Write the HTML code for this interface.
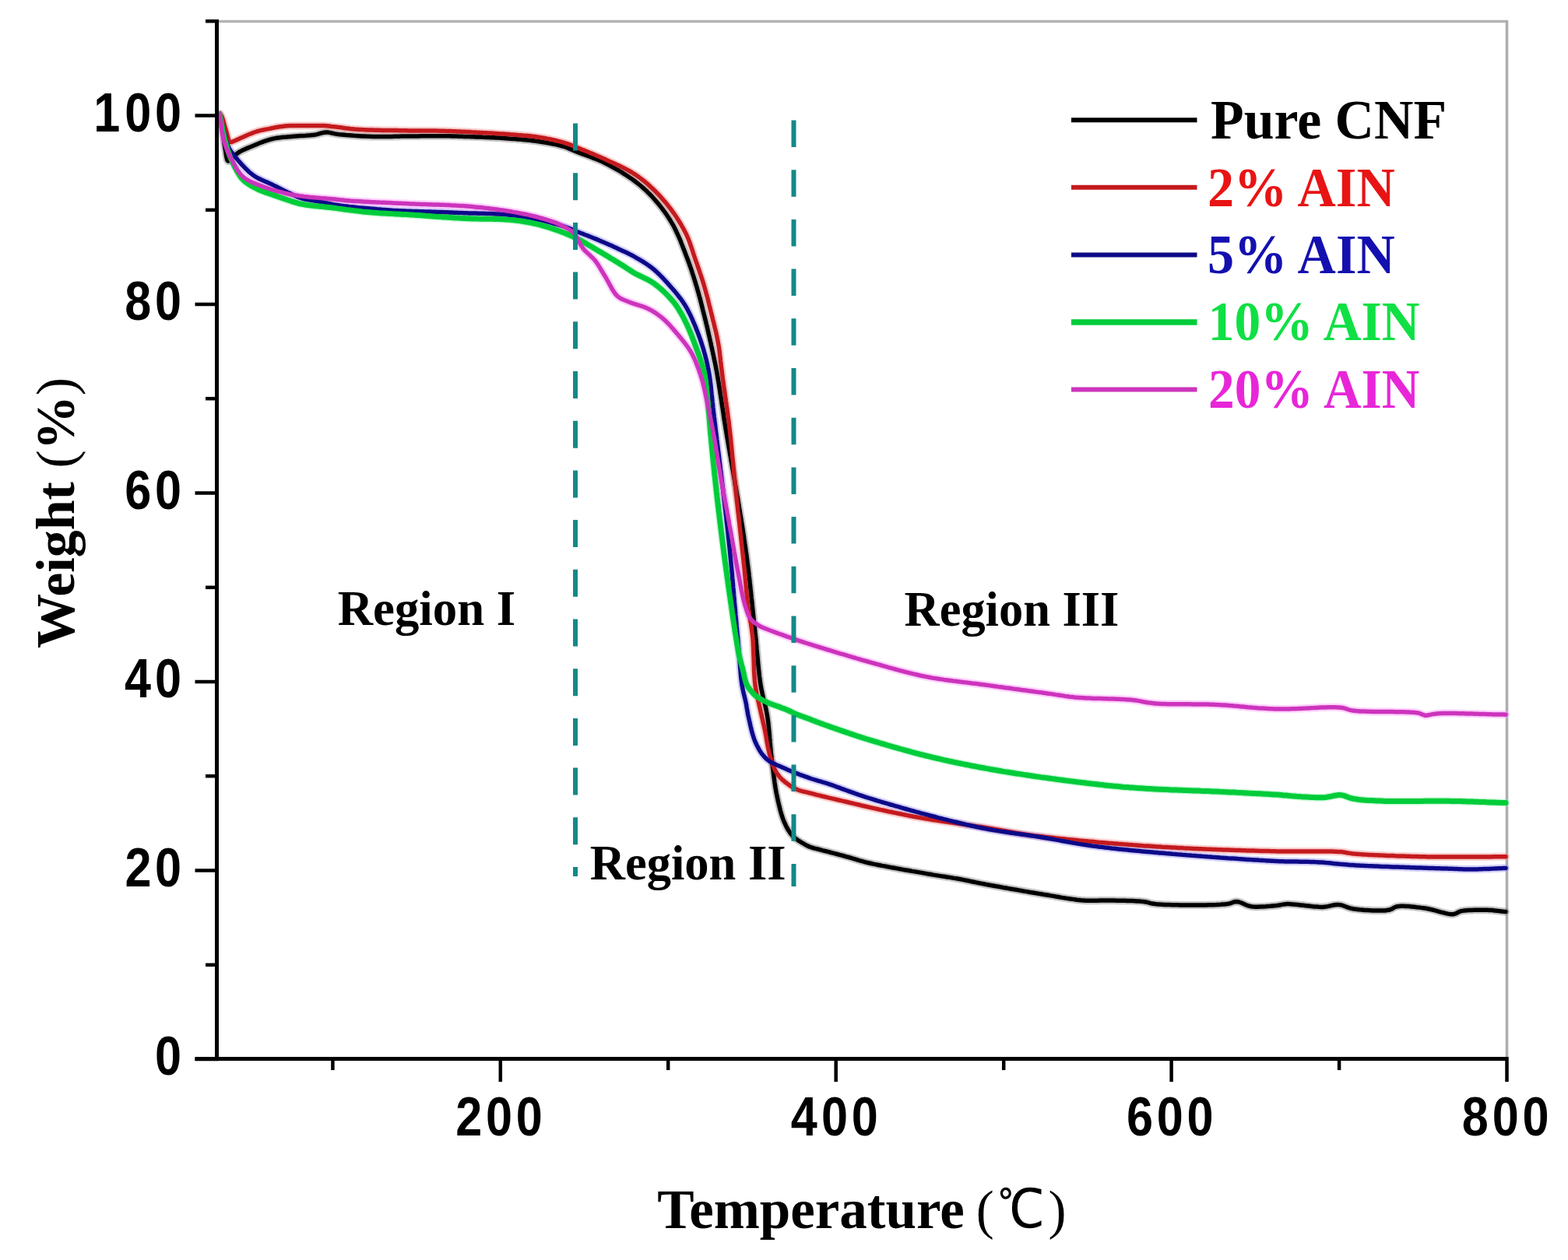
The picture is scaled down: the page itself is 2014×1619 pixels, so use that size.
<!DOCTYPE html>
<html><head><meta charset="utf-8"><title>TGA curves</title>
<style>
html,body{margin:0;padding:0;background:#fff;width:2014px;height:1619px;overflow:hidden}
svg{display:block}
.tick{font-family:"Liberation Sans",Arial,sans-serif;font-weight:bold;font-size:69.5px;fill:#000}
.ttl{font-family:"Liberation Serif","Times New Roman",serif;font-weight:bold;font-size:71px;fill:#000}
.deg{font-family:"Liberation Serif","WenQuanYi Zen Hei","Noto Sans CJK SC",sans-serif;font-weight:normal;font-size:69.1px;fill:#000}
.par{font-family:"Liberation Serif","Times New Roman",serif;font-weight:normal;font-size:69px;fill:#000}
.reg{font-family:"Liberation Serif","Times New Roman",serif;font-weight:bold;font-size:63px;fill:#000}
.leg{font-family:"Liberation Serif","Times New Roman",serif;font-weight:bold;font-size:71.5px}
</style></head><body>
<svg width="2014" height="1619" viewBox="0 0 2014 1619">
<rect width="2014" height="1619" fill="#fff"/>
<!-- frame -->
<line x1="278" y1="27.5" x2="1936" y2="27.5" stroke="#b4b4b4" stroke-width="3.5"/>
<line x1="1935.5" y1="26" x2="1935.5" y2="1361" stroke="#adadad" stroke-width="3.5"/>
<!-- curves -->
<path d="M282.0,147.0 L282.6,149.9 L283.2,152.8 L283.8,155.7 L284.4,158.7 L285.0,162.0 L285.4,164.8 L285.9,167.8 L286.3,170.9 L286.7,174.2 L287.1,177.6 L287.6,180.9 L288.0,184.1 L288.5,187.2 L289.0,190.0 L289.7,194.2 L290.3,198.5 L291.0,202.5 L291.8,205.6 L293.0,207.0 L295.3,205.8 L298.0,203.0 L300.7,200.6 L303.6,198.0 L307.0,195.5 L309.5,194.1 L312.3,192.7 L315.2,191.4 L318.3,190.1 L321.5,188.8 L324.7,187.5 L327.6,186.3 L330.6,185.1 L333.6,183.8 L336.8,182.6 L340.0,181.4 L343.2,180.3 L346.3,179.3 L349.5,178.5 L352.5,177.9 L355.5,177.3 L358.5,176.9 L361.6,176.6 L364.6,176.3 L367.7,176.1 L370.8,175.8 L374.0,175.5 L376.9,175.2 L380.0,175.0 L383.1,174.8 L386.3,174.6 L389.5,174.4 L392.6,174.3 L395.7,174.0 L398.6,173.8 L401.4,173.5 L404.0,173.2 L407.3,172.6 L410.4,171.7 L413.3,170.9 L416.1,170.3 L419.0,170.0 L421.8,170.1 L424.6,170.6 L427.4,171.3 L430.4,171.9 L433.9,172.5 L436.3,172.8 L439.0,173.0 L441.9,173.3 L444.9,173.6 L448.1,173.8 L451.3,174.0 L454.7,174.3 L458.1,174.5 L461.6,174.7 L465.1,174.9 L468.5,175.0 L472.0,175.2 L475.3,175.3 L478.6,175.4 L481.7,175.5 L484.8,175.5 L487.8,175.5 L491.0,175.5 L494.1,175.5 L497.2,175.5 L500.3,175.4 L503.4,175.4 L506.5,175.3 L509.6,175.3 L512.7,175.2 L515.8,175.1 L518.9,175.1 L522.0,175.0 L525.0,175.0 L528.1,175.0 L531.3,174.9 L534.4,174.9 L537.6,174.9 L540.7,174.8 L543.9,174.8 L547.0,174.8 L550.1,174.7 L553.2,174.7 L556.2,174.7 L559.2,174.7 L562.2,174.7 L565.1,174.7 L568.0,174.7 L571.4,174.7 L574.6,174.8 L577.7,174.8 L580.8,174.9 L583.9,175.0 L586.9,175.1 L590.1,175.2 L593.2,175.3 L596.5,175.4 L600.0,175.5 L602.8,175.6 L605.7,175.7 L608.6,175.8 L611.6,175.9 L614.7,176.0 L617.8,176.1 L621.0,176.3 L624.1,176.4 L627.3,176.5 L630.5,176.7 L633.7,176.8 L636.8,177.0 L639.9,177.1 L643.0,177.3 L646.0,177.5 L649.0,177.7 L652.3,177.9 L655.6,178.2 L658.8,178.4 L662.0,178.6 L665.3,178.9 L668.4,179.1 L671.6,179.4 L674.7,179.7 L677.9,180.0 L680.9,180.3 L684.0,180.7 L687.0,181.1 L690.0,181.5 L693.2,182.0 L696.4,182.5 L699.6,183.0 L702.8,183.5 L705.9,184.1 L709.0,184.7 L712.0,185.3 L714.9,185.9 L717.7,186.6 L720.4,187.3 L723.0,188.0 L726.1,189.0 L728.9,190.0 L731.5,191.1 L734.1,192.2 L736.9,193.4 L740.0,194.7 L742.4,195.6 L744.9,196.6 L747.6,197.6 L750.4,198.6 L753.3,199.7 L756.2,200.8 L759.2,201.9 L762.2,203.1 L765.3,204.3 L768.3,205.5 L771.2,206.8 L774.2,208.1 L777.0,209.5 L779.7,210.9 L782.5,212.3 L785.2,213.8 L788.0,215.3 L790.7,216.8 L793.5,218.4 L796.2,220.0 L798.9,221.6 L801.6,223.3 L804.2,225.0 L806.8,226.7 L809.3,228.4 L811.7,230.1 L814.1,231.8 L816.6,233.7 L819.1,235.6 L821.4,237.5 L823.7,239.4 L826.0,241.3 L828.1,243.3 L830.3,245.3 L832.4,247.4 L834.6,249.5 L836.7,251.7 L838.8,254.0 L840.8,256.3 L842.8,258.6 L844.9,261.0 L846.9,263.4 L848.8,265.9 L850.8,268.4 L852.7,271.0 L854.7,273.7 L856.5,276.3 L858.3,279.0 L860.1,281.8 L861.8,284.6 L863.5,287.4 L865.0,290.0 L866.4,292.7 L867.8,295.5 L869.1,298.3 L870.4,301.1 L871.7,304.0 L873.0,306.9 L874.2,309.8 L875.3,312.8 L876.5,315.7 L877.6,318.6 L878.8,321.5 L879.9,324.4 L880.9,327.2 L882.0,330.0 L883.1,332.9 L884.2,335.8 L885.2,338.7 L886.2,341.5 L887.2,344.4 L888.2,347.2 L889.1,350.0 L890.0,352.8 L890.9,355.6 L891.8,358.5 L892.7,361.3 L893.5,364.1 L894.4,367.0 L895.3,370.1 L896.2,373.2 L897.1,376.2 L897.9,379.3 L898.8,382.4 L899.6,385.5 L900.4,388.6 L901.2,391.7 L902.0,394.8 L902.7,397.9 L903.5,401.0 L904.3,404.1 L905.1,407.2 L905.8,410.3 L906.6,413.3 L907.3,416.4 L908.1,419.5 L908.8,422.6 L909.5,425.7 L910.2,428.8 L910.9,431.9 L911.6,435.0 L912.3,438.1 L913.0,441.2 L913.6,444.1 L914.3,447.0 L914.9,449.8 L915.5,452.7 L916.1,455.5 L916.7,458.4 L917.3,461.3 L917.9,464.2 L918.6,467.2 L919.2,470.2 L919.8,473.4 L920.4,476.6 L921.0,480.0 L921.5,482.6 L921.9,485.3 L922.4,488.1 L922.9,490.9 L923.4,493.8 L923.8,496.8 L924.3,499.8 L924.8,502.8 L925.2,505.9 L925.7,509.0 L926.2,512.1 L926.7,515.3 L927.1,518.5 L927.6,521.6 L928.1,524.8 L928.6,528.0 L929.1,531.2 L929.5,534.4 L930.0,537.6 L930.5,540.7 L931.0,543.8 L931.5,546.9 L932.0,550.0 L932.5,553.0 L933.0,556.1 L933.5,559.2 L934.0,562.2 L934.6,565.3 L935.1,568.4 L935.6,571.5 L936.1,574.6 L936.7,577.6 L937.2,580.7 L937.7,583.8 L938.3,586.9 L938.8,589.9 L939.3,593.0 L939.9,596.1 L940.4,599.1 L940.9,602.1 L941.5,605.1 L942.0,608.1 L942.5,611.1 L943.0,614.1 L943.5,617.1 L944.0,620.0 L944.5,623.1 L945.1,626.2 L945.6,629.3 L946.1,632.4 L946.6,635.4 L947.2,638.5 L947.7,641.6 L948.2,644.6 L948.7,647.6 L949.2,650.6 L949.7,653.6 L950.2,656.6 L950.7,659.6 L951.2,662.5 L951.7,665.5 L952.2,668.4 L952.6,671.3 L953.1,674.2 L953.6,677.1 L954.0,680.0 L954.5,683.2 L955.0,686.5 L955.5,689.6 L955.9,692.8 L956.4,696.0 L956.8,699.1 L957.3,702.2 L957.7,705.3 L958.1,708.4 L958.6,711.4 L959.0,714.5 L959.4,717.6 L959.8,720.7 L960.2,723.8 L960.6,726.9 L961.0,730.0 L961.4,733.1 L961.8,736.3 L962.1,739.5 L962.5,742.7 L962.9,745.9 L963.2,749.1 L963.6,752.3 L963.9,755.5 L964.2,758.7 L964.6,761.8 L964.9,765.0 L965.2,768.0 L965.6,771.1 L965.9,774.1 L966.2,777.1 L966.5,780.0 L966.8,783.2 L967.2,786.3 L967.5,789.3 L967.8,792.2 L968.1,795.1 L968.4,798.0 L968.7,800.9 L969.1,803.8 L969.4,806.8 L969.7,809.9 L970.0,813.1 L970.4,816.5 L970.7,819.2 L970.9,821.9 L971.2,824.8 L971.5,827.7 L971.8,830.7 L972.0,833.8 L972.3,836.9 L972.6,840.1 L972.9,843.2 L973.2,846.5 L973.5,849.7 L973.8,852.9 L974.1,856.1 L974.4,859.3 L974.7,862.4 L975.1,865.5 L975.4,868.5 L975.8,871.5 L976.2,874.4 L976.6,877.3 L977.0,880.0 L977.6,883.4 L978.2,886.7 L978.9,889.9 L979.6,893.0 L980.3,896.1 L981.0,899.1 L981.8,902.1 L982.5,905.1 L983.2,908.1 L983.9,911.2 L984.5,914.3 L985.1,917.5 L985.7,920.8 L986.1,923.6 L986.5,926.5 L986.9,929.4 L987.2,932.4 L987.5,935.4 L987.8,938.4 L988.1,941.5 L988.4,944.6 L988.6,947.7 L988.9,950.8 L989.1,953.9 L989.4,957.0 L989.7,960.1 L989.9,963.1 L990.2,966.2 L990.5,969.2 L990.9,972.2 L991.2,975.1 L991.6,978.2 L991.9,981.3 L992.3,984.3 L992.7,987.4 L993.1,990.5 L993.4,993.6 L993.8,996.6 L994.2,999.6 L994.6,1002.6 L995.0,1005.6 L995.5,1008.6 L995.9,1011.5 L996.4,1014.3 L996.9,1017.2 L997.4,1020.0 L998.0,1022.7 L998.7,1026.1 L999.4,1029.4 L1000.2,1032.8 L1001.0,1036.0 L1001.8,1039.3 L1002.6,1042.4 L1003.5,1045.5 L1004.4,1048.5 L1005.4,1051.4 L1006.4,1054.1 L1007.5,1056.7 L1009.1,1060.2 L1010.7,1063.4 L1012.5,1066.5 L1014.3,1069.3 L1016.3,1072.0 L1018.4,1074.4 L1020.9,1076.7 L1023.7,1078.8 L1026.5,1080.7 L1029.3,1082.4 L1031.9,1083.9 L1034.6,1085.5 L1037.2,1086.9 L1040.0,1088.1 L1042.7,1089.0 L1045.5,1089.8 L1048.7,1090.6 L1052.3,1091.5 L1054.5,1092.1 L1057.0,1092.8 L1059.8,1093.5 L1062.6,1094.2 L1065.7,1095.0 L1068.8,1095.9 L1072.0,1096.7 L1075.2,1097.5 L1078.3,1098.4 L1081.4,1099.2 L1084.4,1100.0 L1087.3,1100.8 L1090.0,1101.5 L1093.2,1102.4 L1096.2,1103.3 L1099.0,1104.2 L1101.7,1105.0 L1104.5,1105.9 L1107.5,1106.7 L1110.8,1107.6 L1114.5,1108.5 L1116.7,1109.0 L1119.1,1109.5 L1121.7,1110.1 L1124.3,1110.6 L1127.1,1111.2 L1130.0,1111.8 L1132.9,1112.4 L1136.0,1112.9 L1139.1,1113.5 L1142.3,1114.1 L1145.5,1114.7 L1148.7,1115.3 L1152.0,1115.9 L1155.3,1116.5 L1158.6,1117.1 L1161.9,1117.7 L1165.1,1118.2 L1168.4,1118.8 L1171.5,1119.4 L1174.7,1119.9 L1177.7,1120.4 L1180.7,1120.9 L1183.6,1121.4 L1186.3,1121.9 L1189.0,1122.4 L1192.3,1123.0 L1195.6,1123.5 L1198.8,1124.1 L1202.0,1124.6 L1205.1,1125.1 L1208.1,1125.6 L1211.1,1126.1 L1214.1,1126.5 L1217.0,1127.0 L1219.9,1127.4 L1222.7,1127.9 L1225.5,1128.4 L1228.3,1128.8 L1231.0,1129.3 L1233.7,1129.8 L1236.9,1130.4 L1239.8,1131.0 L1242.6,1131.5 L1245.4,1132.1 L1248.1,1132.7 L1250.8,1133.3 L1253.7,1133.9 L1256.7,1134.5 L1259.9,1135.1 L1263.4,1135.8 L1265.8,1136.3 L1268.4,1136.7 L1271.0,1137.2 L1273.8,1137.7 L1276.7,1138.2 L1279.6,1138.8 L1282.7,1139.3 L1285.8,1139.9 L1289.0,1140.5 L1292.2,1141.0 L1295.4,1141.6 L1298.7,1142.2 L1302.1,1142.8 L1305.4,1143.3 L1308.7,1143.9 L1312.0,1144.5 L1315.4,1145.1 L1318.6,1145.6 L1321.9,1146.2 L1325.1,1146.7 L1328.2,1147.2 L1331.3,1147.8 L1334.3,1148.3 L1337.2,1148.7 L1340.0,1149.2 L1343.3,1149.7 L1346.6,1150.3 L1349.9,1150.9 L1353.1,1151.4 L1356.3,1152.0 L1359.5,1152.5 L1362.6,1153.1 L1365.7,1153.6 L1368.8,1154.1 L1371.8,1154.6 L1374.8,1155.0 L1377.7,1155.4 L1380.6,1155.8 L1383.4,1156.2 L1386.2,1156.5 L1388.9,1156.8 L1391.6,1157.0 L1395.0,1157.2 L1398.2,1157.3 L1401.2,1157.3 L1404.2,1157.3 L1407.1,1157.3 L1410.0,1157.2 L1412.9,1157.1 L1416.0,1157.0 L1419.1,1157.0 L1422.4,1157.0 L1425.3,1157.0 L1428.3,1157.1 L1431.4,1157.1 L1434.7,1157.2 L1438.0,1157.2 L1441.4,1157.3 L1444.7,1157.3 L1448.1,1157.4 L1451.4,1157.5 L1454.6,1157.6 L1457.8,1157.7 L1460.7,1157.9 L1463.5,1158.0 L1466.1,1158.3 L1468.5,1158.5 L1471.9,1159.0 L1474.6,1159.7 L1477.2,1160.4 L1480.1,1161.1 L1483.9,1161.6 L1485.8,1161.8 L1488.0,1161.9 L1490.4,1162.1 L1493.0,1162.2 L1495.8,1162.4 L1498.8,1162.5 L1501.9,1162.6 L1505.2,1162.7 L1508.6,1162.8 L1512.1,1162.8 L1515.7,1162.9 L1519.4,1163.0 L1523.1,1163.0 L1526.9,1163.0 L1530.6,1163.0 L1534.4,1163.0 L1538.1,1163.0 L1541.8,1163.0 L1545.5,1163.0 L1549.0,1162.9 L1552.5,1162.8 L1555.8,1162.8 L1559.0,1162.7 L1562.1,1162.6 L1565.0,1162.4 L1567.7,1162.3 L1570.2,1162.1 L1572.5,1162.0 L1574.5,1161.8 L1576.3,1161.6 L1580.2,1160.8 L1583.0,1159.7 L1585.6,1158.8 L1588.6,1158.5 L1591.4,1159.0 L1594.3,1160.0 L1597.2,1161.3 L1600.3,1162.7 L1603.5,1163.9 L1607.0,1164.7 L1609.7,1165.0 L1612.6,1165.2 L1615.7,1165.2 L1618.9,1165.1 L1622.2,1165.0 L1625.5,1164.8 L1628.7,1164.5 L1631.8,1164.3 L1634.8,1164.0 L1637.5,1163.7 L1640.0,1163.5 L1643.5,1163.0 L1646.4,1162.4 L1649.3,1161.9 L1653.0,1161.6 L1655.3,1161.6 L1657.9,1161.7 L1660.7,1161.9 L1663.8,1162.2 L1667.0,1162.5 L1670.4,1162.9 L1673.8,1163.3 L1677.3,1163.7 L1680.8,1164.1 L1684.2,1164.5 L1687.6,1164.9 L1690.8,1165.1 L1693.9,1165.3 L1696.7,1165.4 L1699.3,1165.4 L1703.1,1165.1 L1706.6,1164.4 L1709.9,1163.6 L1713.0,1162.9 L1716.1,1162.5 L1719.3,1162.4 L1722.3,1162.9 L1725.2,1163.7 L1728.0,1164.8 L1730.9,1165.9 L1734.1,1166.9 L1737.7,1167.7 L1740.2,1168.1 L1743.0,1168.4 L1746.1,1168.8 L1749.3,1169.1 L1752.7,1169.4 L1756.2,1169.6 L1759.8,1169.8 L1763.3,1170.0 L1766.8,1170.1 L1770.1,1170.1 L1773.4,1170.1 L1776.4,1170.0 L1779.2,1169.9 L1781.7,1169.6 L1783.9,1169.3 L1787.9,1167.9 L1790.9,1166.0 L1794.7,1164.7 L1797.1,1164.4 L1799.8,1164.3 L1802.8,1164.2 L1806.0,1164.4 L1809.3,1164.6 L1812.8,1164.9 L1816.3,1165.2 L1819.8,1165.7 L1823.4,1166.1 L1826.8,1166.6 L1830.1,1167.0 L1833.2,1167.5 L1836.5,1168.2 L1839.9,1169.0 L1843.3,1169.9 L1846.7,1170.8 L1850.1,1171.8 L1853.4,1172.6 L1856.5,1173.4 L1859.5,1174.1 L1862.3,1174.5 L1864.8,1174.7 L1867.0,1174.7 L1870.4,1173.7 L1873.0,1172.1 L1876.3,1170.8 L1878.6,1170.4 L1881.2,1170.0 L1884.1,1169.7 L1887.2,1169.5 L1890.5,1169.4 L1893.9,1169.3 L1897.3,1169.2 L1900.7,1169.2 L1904.0,1169.2 L1907.2,1169.2 L1910.1,1169.3 L1913.3,1169.4 L1916.4,1169.6 L1919.4,1169.9 L1922.3,1170.2 L1925.2,1170.6 L1928.1,1170.9 L1931.0,1171.3 L1934.0,1171.6" fill="none" stroke="#808080" stroke-opacity="0.45" stroke-width="10" stroke-linejoin="round" stroke-linecap="round"/>
<path d="M282.5,146.0 L283.7,147.8 L285.0,150.0 L285.9,152.3 L286.8,155.1 L287.7,158.3 L288.6,161.7 L289.6,165.0 L290.5,168.0 L291.4,171.3 L292.3,174.9 L293.2,178.3 L294.2,181.0 L295.5,182.5 L297.6,182.5 L300.0,181.5 L302.9,180.3 L306.3,178.7 L310.0,177.0 L312.5,175.9 L315.1,174.7 L317.9,173.5 L320.9,172.3 L323.8,171.1 L326.7,170.0 L329.6,169.0 L332.7,168.1 L335.7,167.4 L338.8,166.7 L341.8,166.1 L344.9,165.6 L347.9,165.0 L350.9,164.4 L353.8,163.8 L356.7,163.3 L359.6,162.8 L362.7,162.4 L365.8,162.0 L369.0,161.8 L372.3,161.6 L375.6,161.5 L379.0,161.5 L382.5,161.5 L386.0,161.5 L389.6,161.5 L392.8,161.5 L396.1,161.5 L399.6,161.4 L403.0,161.4 L406.5,161.4 L409.9,161.5 L413.2,161.5 L416.4,161.6 L419.4,161.8 L422.7,162.0 L425.8,162.4 L428.8,162.7 L431.7,163.1 L434.5,163.4 L437.3,163.8 L440.5,164.2 L443.5,164.7 L446.6,165.1 L450.0,165.5 L452.7,165.7 L455.7,166.0 L458.8,166.2 L462.0,166.4 L465.3,166.6 L468.6,166.7 L471.8,166.9 L475.0,167.0 L478.1,167.1 L481.2,167.2 L484.2,167.3 L487.2,167.3 L490.3,167.4 L493.5,167.4 L496.7,167.4 L500.0,167.5 L503.0,167.5 L506.0,167.6 L509.1,167.6 L512.3,167.7 L515.5,167.7 L518.8,167.8 L522.0,167.8 L525.3,167.9 L528.6,167.9 L531.8,168.0 L535.0,168.0 L538.2,168.0 L541.4,168.1 L544.6,168.1 L547.8,168.1 L551.1,168.1 L554.3,168.1 L557.5,168.1 L560.6,168.1 L563.8,168.2 L566.9,168.2 L570.0,168.3 L573.1,168.4 L576.0,168.5 L578.9,168.6 L581.8,168.7 L584.7,168.8 L587.6,168.9 L590.5,169.0 L593.6,169.2 L596.7,169.3 L600.0,169.5 L602.7,169.6 L605.6,169.8 L608.5,169.9 L611.5,170.1 L614.6,170.2 L617.7,170.4 L620.8,170.6 L624.0,170.7 L627.2,170.9 L630.4,171.1 L633.6,171.3 L636.8,171.5 L639.9,171.7 L643.0,171.9 L646.0,172.1 L649.0,172.3 L652.3,172.5 L655.6,172.8 L658.8,173.0 L662.0,173.2 L665.3,173.5 L668.4,173.7 L671.6,174.0 L674.7,174.2 L677.9,174.5 L680.9,174.8 L684.0,175.2 L687.0,175.6 L690.0,176.0 L693.2,176.5 L696.3,177.0 L699.5,177.5 L702.6,178.1 L705.6,178.7 L708.7,179.3 L711.6,180.0 L714.6,180.7 L717.4,181.4 L720.3,182.1 L723.0,182.9 L726.1,183.8 L729.1,184.8 L731.9,185.9 L734.7,186.9 L737.5,188.1 L740.3,189.2 L743.2,190.4 L746.2,191.6 L748.8,192.7 L751.5,193.7 L754.2,194.8 L757.0,196.0 L759.8,197.1 L762.6,198.3 L765.5,199.5 L768.3,200.7 L771.2,202.0 L774.1,203.3 L777.0,204.6 L779.8,205.9 L782.6,207.2 L785.6,208.5 L788.5,209.8 L791.5,211.2 L794.5,212.6 L797.4,214.0 L800.4,215.5 L803.3,216.9 L806.1,218.4 L808.9,220.0 L811.5,221.5 L814.1,223.1 L816.9,224.9 L819.5,226.7 L822.1,228.6 L824.6,230.5 L827.0,232.4 L829.4,234.4 L831.8,236.4 L834.1,238.5 L836.4,240.7 L838.8,242.9 L841.0,245.0 L843.1,247.2 L845.3,249.4 L847.4,251.7 L849.6,254.1 L851.7,256.5 L853.7,258.9 L855.8,261.3 L857.8,263.8 L859.7,266.3 L861.7,268.8 L863.5,271.3 L865.3,273.8 L867.0,276.3 L868.7,278.8 L870.4,281.4 L872.0,284.0 L873.6,286.6 L875.1,289.2 L876.6,291.8 L878.1,294.4 L879.4,297.0 L880.8,299.6 L882.0,302.2 L883.4,305.3 L884.6,308.3 L885.8,311.3 L886.8,314.3 L887.9,317.4 L888.9,320.4 L889.9,323.5 L890.9,326.7 L892.0,330.0 L893.0,332.9 L894.0,335.8 L895.1,338.9 L896.1,341.9 L897.2,345.0 L898.3,348.1 L899.3,351.3 L900.4,354.4 L901.4,357.6 L902.4,360.7 L903.4,363.9 L904.3,367.0 L905.2,370.1 L906.1,373.1 L906.9,376.2 L907.8,379.3 L908.6,382.4 L909.4,385.5 L910.2,388.6 L910.9,391.6 L911.7,394.7 L912.5,397.8 L913.2,400.9 L914.0,404.0 L914.8,407.1 L915.5,410.1 L916.3,413.2 L917.1,416.3 L917.8,419.3 L918.5,422.4 L919.3,425.5 L920.0,428.6 L920.7,431.7 L921.3,434.8 L921.9,437.9 L922.5,441.0 L923.0,443.9 L923.5,446.8 L923.9,449.7 L924.3,452.5 L924.6,455.4 L925.0,458.3 L925.3,461.2 L925.6,464.1 L926.0,467.1 L926.3,470.2 L926.7,473.4 L927.1,476.6 L927.5,480.0 L927.9,482.6 L928.2,485.4 L928.6,488.1 L929.0,491.0 L929.4,493.9 L929.8,496.8 L930.2,499.8 L930.7,502.8 L931.1,505.9 L931.5,509.0 L932.0,512.1 L932.4,515.3 L932.9,518.5 L933.3,521.7 L933.8,524.8 L934.2,528.0 L934.6,531.2 L935.0,534.4 L935.5,537.6 L935.9,540.7 L936.3,543.8 L936.6,546.9 L937.0,550.0 L937.4,553.0 L937.7,556.1 L938.0,559.2 L938.4,562.2 L938.7,565.3 L939.0,568.4 L939.3,571.5 L939.6,574.6 L939.9,577.6 L940.2,580.7 L940.5,583.8 L940.8,586.9 L941.1,589.9 L941.4,593.0 L941.7,596.0 L941.9,599.1 L942.2,602.1 L942.5,605.1 L942.8,608.1 L943.1,611.1 L943.4,614.1 L943.7,617.1 L944.0,620.0 L944.3,623.1 L944.7,626.2 L945.0,629.3 L945.3,632.4 L945.6,635.5 L946.0,638.5 L946.3,641.6 L946.6,644.6 L947.0,647.6 L947.3,650.6 L947.6,653.6 L947.9,656.6 L948.3,659.6 L948.6,662.5 L948.9,665.5 L949.2,668.4 L949.6,671.3 L949.9,674.2 L950.2,677.1 L950.5,680.0 L950.9,683.3 L951.2,686.5 L951.6,689.7 L951.9,692.8 L952.3,696.0 L952.6,699.1 L953.0,702.2 L953.3,705.3 L953.7,708.4 L954.0,711.4 L954.3,714.5 L954.7,717.6 L955.0,720.7 L955.3,723.8 L955.7,726.9 L956.0,730.0 L956.3,733.1 L956.6,736.3 L956.9,739.5 L957.2,742.7 L957.5,745.9 L957.8,749.1 L958.1,752.3 L958.4,755.5 L958.7,758.7 L959.0,761.8 L959.3,765.0 L959.7,768.1 L960.0,771.1 L960.3,774.1 L960.6,777.1 L961.0,780.0 L961.4,783.2 L961.9,786.3 L962.4,789.3 L962.8,792.2 L963.3,795.1 L963.8,798.0 L964.3,800.9 L964.8,803.8 L965.3,806.8 L965.7,809.9 L966.1,813.1 L966.5,816.5 L966.8,819.2 L967.0,821.9 L967.2,824.8 L967.3,827.8 L967.5,830.9 L967.6,834.0 L967.7,837.2 L967.8,840.4 L968.0,843.6 L968.1,846.9 L968.2,850.1 L968.3,853.4 L968.4,856.6 L968.5,859.8 L968.6,862.9 L968.8,866.0 L969.0,869.0 L969.2,871.9 L969.4,874.7 L969.7,877.4 L970.0,880.0 L970.5,883.7 L971.1,887.1 L971.7,890.5 L972.3,893.7 L973.0,896.8 L973.7,899.9 L974.4,902.9 L975.1,905.9 L975.8,908.9 L976.5,912.0 L977.2,915.3 L978.0,918.6 L978.7,921.9 L979.5,925.2 L980.2,928.5 L981.0,931.7 L981.7,934.8 L982.4,938.0 L983.0,941.0 L983.6,944.3 L984.2,947.5 L984.6,950.6 L985.1,953.6 L985.7,956.7 L986.3,959.8 L987.0,963.0 L987.7,965.9 L988.5,968.9 L989.3,972.0 L990.2,975.1 L991.1,978.2 L992.1,981.2 L993.1,984.0 L994.1,986.6 L995.2,989.0 L997.0,992.3 L998.9,995.1 L1001.0,997.7 L1003.0,1000.0 L1005.3,1002.2 L1007.6,1004.2 L1010.0,1006.0 L1013.4,1008.6 L1017.0,1011.0 L1020.8,1013.1 L1025.0,1015.0 L1027.6,1015.9 L1030.4,1016.7 L1033.5,1017.4 L1036.7,1018.2 L1040.0,1019.0 L1042.9,1019.7 L1046.0,1020.5 L1049.2,1021.3 L1052.6,1022.2 L1055.9,1023.0 L1059.3,1023.8 L1062.7,1024.6 L1065.9,1025.4 L1069.0,1026.1 L1072.0,1026.8 L1075.0,1027.5 L1078.0,1028.2 L1081.0,1028.9 L1084.0,1029.6 L1087.0,1030.3 L1090.0,1031.0 L1093.0,1031.7 L1095.9,1032.4 L1098.8,1033.1 L1101.8,1033.8 L1104.8,1034.5 L1107.9,1035.3 L1111.1,1036.0 L1114.5,1036.8 L1117.1,1037.4 L1119.9,1038.0 L1122.7,1038.6 L1125.7,1039.3 L1128.7,1040.0 L1131.8,1040.6 L1135.0,1041.3 L1138.2,1042.0 L1141.3,1042.7 L1144.5,1043.3 L1147.6,1044.0 L1150.6,1044.6 L1153.6,1045.3 L1156.5,1045.8 L1159.2,1046.4 L1162.4,1047.0 L1165.3,1047.6 L1168.2,1048.2 L1170.9,1048.7 L1173.6,1049.3 L1176.4,1049.8 L1179.3,1050.3 L1182.3,1050.8 L1185.5,1051.4 L1189.0,1052.0 L1191.5,1052.4 L1194.0,1052.8 L1196.7,1053.2 L1199.5,1053.7 L1202.3,1054.1 L1205.3,1054.6 L1208.3,1055.0 L1211.3,1055.5 L1214.5,1055.9 L1217.7,1056.4 L1220.9,1056.8 L1224.2,1057.3 L1227.4,1057.8 L1230.8,1058.2 L1234.1,1058.7 L1237.4,1059.2 L1240.7,1059.7 L1244.0,1060.2 L1247.3,1060.6 L1250.5,1061.1 L1253.7,1061.6 L1256.9,1062.1 L1260.0,1062.5 L1263.0,1063.0 L1266.1,1063.5 L1269.1,1064.0 L1272.1,1064.5 L1275.0,1065.0 L1277.9,1065.5 L1280.8,1066.0 L1283.6,1066.5 L1286.4,1067.0 L1289.3,1067.5 L1292.1,1068.0 L1295.0,1068.5 L1297.9,1069.0 L1300.8,1069.5 L1303.7,1070.0 L1306.7,1070.5 L1309.8,1071.0 L1312.9,1071.5 L1316.2,1072.0 L1319.5,1072.5 L1322.9,1073.0 L1326.4,1073.4 L1330.0,1073.9 L1332.4,1074.2 L1334.9,1074.5 L1337.4,1074.8 L1340.0,1075.1 L1342.5,1075.4 L1345.2,1075.7 L1347.9,1076.0 L1350.6,1076.3 L1353.3,1076.6 L1356.1,1076.9 L1359.0,1077.2 L1361.8,1077.5 L1364.7,1077.8 L1367.6,1078.1 L1370.6,1078.4 L1373.5,1078.7 L1376.5,1079.0 L1379.6,1079.3 L1382.6,1079.6 L1385.7,1079.9 L1388.8,1080.2 L1391.9,1080.5 L1395.0,1080.8 L1398.2,1081.1 L1401.3,1081.3 L1404.5,1081.6 L1407.7,1081.9 L1410.9,1082.2 L1414.1,1082.4 L1417.3,1082.7 L1420.5,1083.0 L1423.7,1083.3 L1426.9,1083.5 L1430.1,1083.8 L1433.4,1084.0 L1436.6,1084.3 L1439.8,1084.5 L1443.0,1084.8 L1446.3,1085.0 L1449.5,1085.3 L1452.7,1085.5 L1455.8,1085.8 L1459.0,1086.0 L1462.2,1086.2 L1465.3,1086.4 L1468.5,1086.7 L1471.6,1086.9 L1474.7,1087.1 L1477.8,1087.3 L1480.9,1087.5 L1483.9,1087.7 L1486.9,1087.9 L1489.9,1088.1 L1492.9,1088.3 L1496.0,1088.4 L1499.1,1088.6 L1502.1,1088.8 L1505.2,1089.0 L1508.3,1089.1 L1511.5,1089.3 L1514.6,1089.5 L1517.7,1089.6 L1520.8,1089.8 L1524.0,1089.9 L1527.1,1090.1 L1530.3,1090.2 L1533.5,1090.4 L1536.6,1090.5 L1539.8,1090.7 L1542.9,1090.8 L1546.1,1090.9 L1549.2,1091.1 L1552.4,1091.2 L1555.6,1091.3 L1558.7,1091.4 L1561.8,1091.5 L1565.0,1091.7 L1568.1,1091.8 L1571.2,1091.9 L1574.3,1092.0 L1577.4,1092.1 L1580.4,1092.2 L1583.5,1092.3 L1586.5,1092.4 L1589.6,1092.5 L1592.6,1092.6 L1595.6,1092.7 L1598.5,1092.8 L1601.5,1092.9 L1604.4,1093.0 L1607.3,1093.0 L1610.2,1093.1 L1613.1,1093.2 L1615.9,1093.3 L1618.7,1093.4 L1621.5,1093.4 L1624.2,1093.5 L1626.9,1093.6 L1629.6,1093.6 L1632.3,1093.7 L1634.9,1093.8 L1637.5,1093.8 L1640.0,1093.9 L1643.5,1094.0 L1647.1,1094.0 L1650.6,1094.1 L1654.2,1094.1 L1657.8,1094.1 L1661.3,1094.1 L1664.8,1094.1 L1668.3,1094.1 L1671.8,1094.1 L1675.2,1094.1 L1678.6,1094.1 L1682.0,1094.1 L1685.2,1094.1 L1688.5,1094.0 L1691.6,1094.0 L1694.7,1094.0 L1697.7,1094.0 L1700.7,1094.0 L1703.5,1094.0 L1706.3,1094.0 L1708.9,1094.1 L1711.4,1094.1 L1713.9,1094.2 L1716.2,1094.3 L1718.3,1094.4 L1720.4,1094.5 L1722.3,1094.6 L1726.0,1095.0 L1728.7,1095.5 L1731.2,1096.0 L1734.0,1096.4 L1737.7,1096.9 L1739.6,1097.1 L1741.6,1097.2 L1743.8,1097.4 L1746.1,1097.6 L1748.5,1097.7 L1751.1,1097.9 L1753.8,1098.1 L1756.6,1098.2 L1759.5,1098.4 L1762.5,1098.5 L1765.6,1098.7 L1768.8,1098.8 L1772.0,1099.0 L1775.3,1099.1 L1778.7,1099.2 L1782.1,1099.4 L1785.5,1099.5 L1789.0,1099.6 L1792.5,1099.8 L1796.0,1099.9 L1799.5,1100.0 L1803.0,1100.1 L1806.5,1100.2 L1810.0,1100.3 L1813.5,1100.4 L1816.9,1100.5 L1820.3,1100.6 L1823.6,1100.7 L1826.9,1100.7 L1830.1,1100.8 L1833.1,1100.9 L1836.1,1100.9 L1839.0,1101.0 L1842.0,1101.0 L1845.1,1101.0 L1848.1,1101.1 L1851.1,1101.1 L1854.1,1101.1 L1857.2,1101.1 L1860.2,1101.1 L1863.3,1101.1 L1866.3,1101.1 L1869.4,1101.1 L1872.4,1101.1 L1875.5,1101.1 L1878.6,1101.1 L1881.7,1101.1 L1884.7,1101.0 L1887.8,1101.0 L1890.9,1101.0 L1894.0,1101.0 L1897.1,1101.0 L1900.2,1101.0 L1903.3,1100.9 L1906.3,1100.9 L1909.4,1100.9 L1912.5,1100.9 L1915.6,1100.9 L1918.7,1100.8 L1921.7,1100.8 L1924.8,1100.8 L1927.9,1100.8 L1930.9,1100.8 L1934.0,1100.8" fill="none" stroke="#f09090" stroke-opacity="0.45" stroke-width="10" stroke-linejoin="round" stroke-linecap="round"/>
<path d="M282.0,147.0 L282.9,150.3 L283.7,153.7 L284.6,157.0 L285.5,160.3 L286.3,163.6 L287.2,166.9 L288.0,170.0 L288.8,173.2 L289.6,176.4 L290.3,179.5 L291.1,182.5 L292.0,185.3 L293.0,188.0 L294.4,190.8 L295.9,193.3 L297.6,195.8 L299.8,198.6 L301.3,200.5 L302.9,202.5 L304.8,204.7 L306.7,207.0 L308.8,209.4 L311.0,211.8 L313.2,214.2 L315.5,216.6 L317.8,218.8 L320.1,221.0 L322.4,222.9 L324.7,224.7 L327.3,226.5 L329.9,228.1 L332.6,229.5 L335.2,230.8 L338.0,232.0 L340.7,233.2 L343.6,234.4 L346.5,235.7 L349.5,237.1 L352.1,238.4 L354.9,239.8 L357.7,241.2 L360.6,242.7 L363.5,244.2 L366.5,245.7 L369.5,247.2 L372.5,248.6 L375.5,250.0 L378.4,251.3 L381.2,252.5 L384.0,253.6 L386.7,254.5 L390.0,255.5 L393.2,256.3 L396.3,256.9 L399.3,257.4 L402.4,257.9 L405.4,258.4 L408.4,258.9 L411.5,259.4 L414.6,260.0 L417.6,260.6 L420.7,261.2 L423.7,261.8 L426.8,262.4 L429.9,263.0 L433.1,263.5 L436.4,264.0 L439.3,264.4 L442.2,264.8 L445.2,265.1 L448.3,265.5 L451.4,265.8 L454.6,266.1 L457.7,266.4 L460.8,266.7 L463.9,266.9 L467.0,267.2 L470.0,267.5 L473.1,267.8 L476.2,268.1 L479.2,268.3 L482.2,268.6 L485.3,268.9 L488.3,269.1 L491.3,269.4 L494.2,269.6 L497.1,269.8 L500.0,270.0 L503.2,270.2 L506.2,270.4 L509.2,270.5 L512.2,270.7 L515.2,270.8 L518.3,270.9 L521.6,271.1 L525.0,271.2 L527.7,271.3 L530.6,271.4 L533.6,271.5 L536.6,271.6 L539.8,271.7 L542.9,271.8 L546.2,271.9 L549.4,272.0 L552.6,272.1 L555.8,272.2 L559.0,272.3 L562.1,272.4 L565.1,272.5 L568.0,272.6 L571.4,272.7 L574.6,272.8 L577.7,273.0 L580.8,273.1 L583.9,273.2 L586.9,273.3 L590.0,273.4 L593.2,273.5 L596.5,273.7 L600.0,273.8 L602.8,273.9 L605.7,274.0 L608.7,274.1 L611.8,274.1 L614.9,274.2 L618.1,274.3 L621.3,274.3 L624.5,274.4 L627.8,274.5 L631.0,274.6 L634.2,274.7 L637.4,274.9 L640.6,275.0 L643.7,275.2 L646.7,275.4 L649.7,275.7 L652.9,276.0 L656.1,276.4 L659.2,276.7 L662.3,277.1 L665.3,277.5 L668.4,277.9 L671.4,278.4 L674.4,278.9 L677.4,279.4 L680.4,279.9 L683.4,280.5 L686.4,281.1 L689.4,281.7 L692.5,282.4 L695.8,283.1 L699.1,283.9 L702.5,284.8 L705.9,285.7 L709.2,286.6 L712.5,287.5 L715.7,288.4 L718.8,289.3 L721.7,290.2 L724.4,291.0 L726.9,291.8 L729.1,292.6 L733.2,294.2 L736.4,295.6 L740.0,297.2 L742.9,298.3 L745.9,299.5 L749.2,300.7 L752.4,302.0 L755.7,303.2 L758.9,304.5 L761.9,305.7 L764.9,306.9 L767.9,308.1 L770.8,309.4 L773.9,310.7 L777.0,312.0 L779.8,313.2 L782.7,314.5 L785.7,315.8 L788.7,317.2 L791.7,318.5 L794.6,319.9 L797.4,321.2 L800.0,322.4 L803.0,323.8 L805.7,325.1 L808.4,326.4 L811.1,327.8 L814.1,329.4 L816.6,330.8 L819.2,332.3 L821.9,333.9 L824.8,335.6 L827.6,337.4 L830.5,339.3 L833.3,341.2 L836.1,343.3 L838.8,345.4 L841.2,347.4 L843.5,349.5 L845.9,351.8 L848.2,354.1 L850.6,356.5 L852.9,358.9 L855.1,361.3 L857.3,363.7 L859.4,366.1 L861.5,368.5 L863.5,370.8 L865.8,373.4 L868.0,376.0 L870.1,378.6 L872.1,381.2 L874.1,383.7 L876.0,386.3 L877.8,389.0 L879.6,391.8 L881.2,394.4 L882.7,397.0 L884.1,399.7 L885.5,402.4 L886.8,405.1 L888.1,407.9 L889.4,410.7 L890.6,413.6 L891.9,416.5 L893.1,419.4 L894.3,422.4 L895.5,425.5 L896.7,428.5 L897.9,431.7 L899.0,434.8 L900.1,438.0 L901.1,441.1 L902.1,444.3 L903.1,447.4 L904.0,450.4 L904.8,453.4 L905.7,456.3 L906.4,459.3 L907.2,462.2 L907.9,465.3 L908.6,468.3 L909.2,471.5 L909.9,474.8 L910.5,478.2 L911.0,480.9 L911.4,483.6 L911.8,486.3 L912.2,489.1 L912.5,492.0 L912.9,494.9 L913.2,497.8 L913.5,500.8 L913.8,503.9 L914.1,507.0 L914.5,510.1 L914.8,513.3 L915.1,516.5 L915.5,519.8 L915.8,523.2 L916.2,526.6 L916.6,530.0 L916.9,532.6 L917.2,535.3 L917.6,538.1 L917.9,540.9 L918.3,543.8 L918.6,546.7 L919.0,549.7 L919.3,552.7 L919.7,555.8 L920.1,558.8 L920.5,562.0 L920.8,565.1 L921.2,568.2 L921.6,571.4 L922.0,574.6 L922.4,577.8 L922.8,581.0 L923.2,584.1 L923.6,587.3 L923.9,590.4 L924.3,593.6 L924.7,596.7 L925.1,599.7 L925.4,602.8 L925.8,605.8 L926.1,608.7 L926.5,611.6 L926.8,614.5 L927.2,617.3 L927.5,620.0 L927.9,623.3 L928.3,626.5 L928.7,629.7 L929.0,632.9 L929.4,636.0 L929.8,639.1 L930.1,642.1 L930.5,645.1 L930.8,648.1 L931.2,651.1 L931.5,654.0 L931.9,657.0 L932.2,659.9 L932.6,662.8 L932.9,665.7 L933.2,668.5 L933.5,671.4 L933.9,674.3 L934.2,677.1 L934.5,680.0 L934.9,683.2 L935.2,686.5 L935.5,689.7 L935.9,692.8 L936.2,696.0 L936.5,699.1 L936.9,702.2 L937.2,705.3 L937.5,708.4 L937.8,711.4 L938.1,714.5 L938.4,717.6 L938.7,720.7 L939.0,723.8 L939.3,726.9 L939.6,730.0 L939.9,733.1 L940.2,736.2 L940.5,739.4 L940.7,742.5 L941.0,745.6 L941.3,748.7 L941.6,751.9 L941.8,755.0 L942.1,758.1 L942.4,761.2 L942.6,764.4 L942.9,767.5 L943.2,770.6 L943.4,773.7 L943.7,776.9 L944.0,780.0 L944.3,783.1 L944.6,786.3 L944.8,789.4 L945.1,792.5 L945.4,795.6 L945.7,798.8 L946.0,801.9 L946.2,805.0 L946.5,808.1 L946.8,811.3 L947.1,814.4 L947.4,817.5 L947.7,820.6 L947.9,823.8 L948.2,826.9 L948.5,830.0 L948.8,833.2 L949.0,836.4 L949.3,839.7 L949.5,843.0 L949.8,846.3 L950.0,849.6 L950.3,852.9 L950.5,856.2 L950.8,859.5 L951.1,862.7 L951.3,865.8 L951.6,868.9 L951.9,871.8 L952.3,874.7 L952.6,877.4 L953.0,880.0 L953.7,883.8 L954.4,887.3 L955.2,890.6 L955.9,893.8 L956.7,896.9 L957.4,899.9 L958.1,903.0 L958.7,906.0 L959.1,908.9 L959.6,911.7 L960.1,914.5 L960.6,917.5 L961.3,920.8 L961.9,923.5 L962.6,926.5 L963.3,929.6 L964.0,932.8 L964.8,936.1 L965.6,939.5 L966.5,942.8 L967.5,946.0 L968.5,949.1 L969.6,952.1 L970.8,954.8 L972.2,957.7 L973.7,960.6 L975.2,963.3 L976.8,966.0 L978.5,968.5 L980.4,970.8 L982.3,973.1 L984.4,975.1 L986.9,977.1 L989.5,978.9 L992.3,980.4 L995.3,981.8 L998.3,983.2 L1001.5,984.5 L1004.8,986.0 L1007.3,987.1 L1010.0,988.3 L1012.7,989.5 L1015.5,990.6 L1018.4,991.8 L1021.4,993.0 L1024.3,994.1 L1027.3,995.3 L1030.2,996.3 L1033.1,997.4 L1036.0,998.4 L1038.7,999.4 L1041.8,1000.5 L1045.0,1001.5 L1048.0,1002.4 L1051.1,1003.3 L1054.1,1004.2 L1057.1,1005.1 L1060.0,1005.9 L1063.0,1006.8 L1065.9,1007.8 L1069.0,1008.9 L1072.0,1010.0 L1075.0,1011.1 L1078.0,1012.2 L1081.0,1013.3 L1084.0,1014.4 L1087.0,1015.5 L1090.0,1016.6 L1093.0,1017.7 L1095.8,1018.7 L1098.6,1019.7 L1101.4,1020.6 L1104.3,1021.7 L1107.4,1022.7 L1110.8,1023.8 L1114.5,1025.0 L1116.7,1025.7 L1119.1,1026.4 L1121.5,1027.2 L1124.1,1028.0 L1126.8,1028.8 L1129.6,1029.6 L1132.4,1030.5 L1135.3,1031.3 L1138.3,1032.2 L1141.4,1033.1 L1144.5,1034.0 L1147.6,1034.9 L1150.8,1035.8 L1154.0,1036.7 L1157.2,1037.7 L1160.5,1038.6 L1163.7,1039.5 L1167.0,1040.4 L1170.2,1041.3 L1173.4,1042.2 L1176.6,1043.1 L1179.8,1043.9 L1182.9,1044.8 L1186.0,1045.6 L1189.0,1046.4 L1192.0,1047.2 L1194.9,1048.0 L1197.9,1048.7 L1200.9,1049.5 L1203.8,1050.3 L1206.8,1051.1 L1209.8,1051.8 L1212.7,1052.6 L1215.7,1053.3 L1218.7,1054.1 L1221.6,1054.8 L1224.6,1055.6 L1227.6,1056.3 L1230.5,1057.0 L1233.5,1057.7 L1236.5,1058.4 L1239.5,1059.1 L1242.4,1059.8 L1245.4,1060.5 L1248.4,1061.2 L1251.4,1061.8 L1254.4,1062.5 L1257.4,1063.1 L1260.4,1063.7 L1263.4,1064.3 L1266.4,1064.9 L1269.5,1065.5 L1272.6,1066.0 L1275.7,1066.6 L1278.8,1067.1 L1281.9,1067.6 L1285.0,1068.1 L1288.1,1068.6 L1291.2,1069.0 L1294.4,1069.5 L1297.5,1070.0 L1300.6,1070.4 L1303.7,1070.9 L1306.9,1071.3 L1310.0,1071.8 L1313.0,1072.2 L1316.1,1072.6 L1319.2,1073.1 L1322.2,1073.5 L1325.3,1073.9 L1328.3,1074.4 L1331.2,1074.8 L1334.2,1075.3 L1337.1,1075.7 L1340.0,1076.2 L1343.2,1076.7 L1346.3,1077.3 L1349.3,1077.8 L1352.3,1078.3 L1355.3,1078.9 L1358.2,1079.4 L1361.1,1079.9 L1364.0,1080.5 L1366.9,1081.0 L1369.8,1081.5 L1372.7,1082.0 L1375.6,1082.6 L1378.5,1083.1 L1381.5,1083.6 L1384.4,1084.1 L1387.5,1084.6 L1390.5,1085.1 L1393.6,1085.6 L1396.8,1086.0 L1400.0,1086.5 L1402.7,1086.9 L1405.5,1087.2 L1408.2,1087.6 L1411.0,1088.0 L1413.8,1088.3 L1416.6,1088.6 L1419.4,1089.0 L1422.2,1089.3 L1425.0,1089.6 L1427.8,1090.0 L1430.7,1090.3 L1433.6,1090.6 L1436.5,1090.9 L1439.4,1091.2 L1442.4,1091.5 L1445.4,1091.8 L1448.4,1092.1 L1451.4,1092.4 L1454.5,1092.7 L1457.6,1093.0 L1460.8,1093.3 L1463.9,1093.6 L1467.2,1093.9 L1470.4,1094.2 L1473.7,1094.5 L1477.1,1094.8 L1480.5,1095.1 L1483.9,1095.4 L1486.5,1095.6 L1489.1,1095.9 L1491.8,1096.1 L1494.6,1096.3 L1497.4,1096.6 L1500.2,1096.8 L1503.1,1097.0 L1506.1,1097.3 L1509.1,1097.5 L1512.1,1097.8 L1515.2,1098.0 L1518.4,1098.3 L1521.5,1098.5 L1524.7,1098.8 L1527.9,1099.0 L1531.1,1099.3 L1534.4,1099.5 L1537.7,1099.8 L1541.0,1100.0 L1544.3,1100.3 L1547.6,1100.5 L1550.9,1100.8 L1554.2,1101.0 L1557.5,1101.3 L1560.9,1101.5 L1564.2,1101.7 L1567.5,1102.0 L1570.8,1102.2 L1574.1,1102.4 L1577.4,1102.7 L1580.7,1102.9 L1583.9,1103.1 L1587.1,1103.3 L1590.3,1103.6 L1593.5,1103.8 L1596.6,1104.0 L1599.7,1104.2 L1602.7,1104.4 L1605.8,1104.6 L1608.7,1104.7 L1611.7,1104.9 L1614.5,1105.1 L1617.4,1105.3 L1620.1,1105.4 L1622.9,1105.6 L1625.5,1105.7 L1628.1,1105.9 L1630.6,1106.0 L1633.1,1106.2 L1635.5,1106.3 L1637.8,1106.4 L1640.0,1106.5 L1643.8,1106.7 L1647.4,1106.8 L1650.8,1106.9 L1654.1,1107.0 L1657.3,1107.0 L1660.4,1107.1 L1663.4,1107.1 L1666.3,1107.1 L1669.1,1107.2 L1672.0,1107.2 L1674.7,1107.2 L1677.5,1107.2 L1680.3,1107.3 L1683.0,1107.4 L1685.8,1107.4 L1688.7,1107.6 L1691.6,1107.7 L1694.7,1107.9 L1697.7,1108.1 L1700.6,1108.3 L1703.5,1108.6 L1706.3,1108.8 L1709.2,1109.1 L1712.0,1109.4 L1714.9,1109.7 L1717.8,1110.0 L1720.8,1110.3 L1723.9,1110.5 L1727.1,1110.8 L1730.5,1111.1 L1734.0,1111.4 L1737.7,1111.6 L1740.0,1111.7 L1742.5,1111.9 L1745.0,1112.0 L1747.7,1112.2 L1750.5,1112.3 L1753.3,1112.4 L1756.2,1112.6 L1759.2,1112.7 L1762.3,1112.8 L1765.5,1113.0 L1768.6,1113.1 L1771.9,1113.2 L1775.2,1113.4 L1778.5,1113.5 L1781.9,1113.6 L1785.3,1113.7 L1788.7,1113.9 L1792.1,1114.0 L1795.6,1114.1 L1799.0,1114.2 L1802.4,1114.3 L1805.9,1114.5 L1809.3,1114.6 L1812.7,1114.7 L1816.0,1114.8 L1819.3,1114.9 L1822.6,1115.0 L1825.9,1115.1 L1829.1,1115.2 L1832.2,1115.3 L1835.2,1115.4 L1838.2,1115.5 L1841.1,1115.6 L1844.0,1115.7 L1846.7,1115.8 L1849.3,1115.8 L1851.9,1115.9 L1854.3,1116.0 L1856.6,1116.1 L1858.8,1116.1 L1860.9,1116.2 L1864.8,1116.3 L1868.3,1116.5 L1871.5,1116.6 L1874.5,1116.7 L1877.3,1116.8 L1880.0,1116.9 L1882.7,1116.9 L1885.6,1117.0 L1888.5,1117.0 L1891.7,1117.0 L1894.5,1117.0 L1897.4,1116.9 L1900.3,1116.8 L1903.3,1116.7 L1906.3,1116.6 L1909.4,1116.5 L1912.4,1116.4 L1915.5,1116.2 L1918.6,1116.1 L1921.7,1115.9 L1924.8,1115.8 L1927.9,1115.7 L1931.0,1115.5 L1934.0,1115.4" fill="none" stroke="#a098f0" stroke-opacity="0.45" stroke-width="10" stroke-linejoin="round" stroke-linecap="round"/>
<path d="M282.0,147.0 L282.7,150.2 L283.3,153.5 L283.9,156.8 L284.6,160.1 L285.2,163.3 L285.9,166.6 L286.6,169.8 L287.3,172.9 L288.0,176.0 L288.8,179.2 L289.6,182.3 L290.4,185.4 L291.3,188.5 L292.1,191.5 L293.0,194.4 L294.0,197.2 L295.0,200.0 L296.2,203.1 L297.5,206.0 L298.8,208.9 L300.1,211.6 L301.5,214.3 L303.0,217.0 L304.6,220.0 L306.3,222.9 L308.0,225.8 L309.9,228.5 L312.2,231.0 L314.3,232.9 L316.7,234.7 L319.2,236.5 L321.8,238.1 L324.5,239.6 L327.3,241.1 L330.0,242.5 L333.1,244.0 L336.1,245.2 L339.2,246.4 L342.5,247.6 L345.9,248.7 L349.5,250.0 L352.0,250.9 L354.5,251.8 L357.2,252.8 L360.0,253.8 L362.9,254.8 L365.8,255.8 L368.8,256.8 L371.8,257.8 L374.8,258.8 L377.8,259.7 L380.8,260.5 L383.8,261.3 L386.7,262.0 L389.8,262.6 L392.9,263.2 L396.1,263.6 L399.3,264.0 L402.5,264.4 L405.7,264.7 L408.9,265.0 L412.0,265.3 L415.1,265.6 L418.2,265.9 L421.1,266.2 L424.0,266.5 L427.5,267.0 L430.8,267.4 L434.1,267.9 L437.3,268.3 L440.5,268.7 L443.6,269.2 L446.8,269.6 L450.0,270.0 L453.1,270.4 L456.3,270.8 L459.4,271.1 L462.5,271.5 L465.6,271.9 L468.8,272.2 L471.9,272.5 L475.0,272.8 L478.1,273.1 L481.2,273.3 L484.4,273.5 L487.5,273.7 L490.6,273.9 L493.7,274.0 L496.9,274.2 L500.0,274.4 L503.0,274.6 L505.9,274.7 L508.8,274.9 L511.7,275.0 L514.6,275.2 L517.8,275.4 L521.2,275.6 L525.0,275.8 L527.3,275.9 L529.7,276.1 L532.2,276.3 L534.9,276.4 L537.7,276.6 L540.6,276.8 L543.5,277.0 L546.6,277.3 L549.7,277.5 L552.9,277.7 L556.1,277.9 L559.3,278.2 L562.6,278.4 L565.9,278.6 L569.2,278.9 L572.5,279.1 L575.8,279.3 L579.0,279.5 L582.2,279.7 L585.4,279.9 L588.5,280.1 L591.5,280.3 L594.4,280.4 L597.3,280.6 L600.0,280.7 L603.4,280.8 L606.7,281.0 L610.0,281.0 L613.3,281.1 L616.5,281.2 L619.6,281.2 L622.8,281.2 L625.9,281.3 L628.9,281.3 L631.9,281.3 L634.9,281.4 L637.8,281.5 L640.7,281.6 L643.5,281.7 L646.3,281.8 L649.0,282.0 L652.3,282.3 L655.6,282.5 L658.7,282.8 L661.7,283.1 L664.7,283.4 L667.6,283.8 L670.6,284.2 L673.5,284.7 L676.4,285.2 L679.4,285.7 L682.4,286.3 L685.4,287.0 L688.4,287.6 L691.4,288.4 L694.4,289.2 L697.4,290.0 L700.3,290.8 L703.3,291.7 L706.2,292.6 L709.2,293.6 L712.2,294.6 L715.2,295.7 L718.2,296.7 L721.2,297.9 L724.2,299.0 L727.2,300.2 L730.1,301.5 L733.1,302.8 L736.1,304.1 L739.0,305.5 L741.7,306.9 L744.5,308.3 L747.2,309.7 L749.9,311.2 L752.6,312.8 L755.3,314.4 L758.0,316.0 L760.7,317.6 L763.4,319.2 L766.1,320.8 L768.8,322.4 L771.4,323.9 L774.1,325.5 L776.9,327.2 L779.6,328.8 L782.4,330.5 L785.1,332.2 L787.9,333.8 L790.5,335.4 L793.1,337.0 L795.5,338.5 L797.8,339.9 L800.0,341.3 L803.1,343.3 L805.8,345.1 L808.4,346.8 L811.1,348.6 L814.1,350.4 L816.5,351.8 L819.2,353.1 L822.0,354.5 L824.8,355.8 L827.8,357.3 L830.7,358.7 L833.5,360.2 L836.2,361.8 L838.8,363.4 L841.4,365.2 L843.9,367.1 L846.3,369.1 L848.7,371.1 L851.0,373.2 L853.2,375.3 L855.3,377.3 L857.4,379.4 L859.7,381.8 L861.8,384.1 L863.9,386.5 L865.9,388.9 L867.8,391.5 L869.7,394.2 L871.3,396.7 L872.9,399.3 L874.5,402.0 L876.1,404.7 L877.6,407.6 L879.1,410.5 L880.5,413.5 L882.0,416.5 L883.2,419.1 L884.4,421.8 L885.6,424.5 L886.7,427.3 L887.9,430.1 L889.0,433.0 L890.1,435.9 L891.2,438.8 L892.3,441.7 L893.4,444.6 L894.4,447.4 L895.5,450.4 L896.6,453.5 L897.7,456.4 L898.8,459.4 L899.8,462.4 L900.8,465.5 L901.8,468.5 L902.7,471.7 L903.5,474.9 L904.3,478.2 L904.9,481.0 L905.4,483.8 L905.9,486.7 L906.3,489.7 L906.7,492.6 L907.1,495.7 L907.4,498.7 L907.7,501.8 L908.0,504.8 L908.3,507.9 L908.6,511.0 L908.9,514.0 L909.2,517.0 L909.5,520.0 L909.8,523.1 L910.1,526.1 L910.4,529.1 L910.7,532.1 L910.9,535.1 L911.1,538.1 L911.4,541.0 L911.6,544.1 L911.9,547.1 L912.1,550.2 L912.4,553.4 L912.7,556.7 L913.0,560.0 L913.3,562.7 L913.5,565.5 L913.8,568.3 L914.1,571.2 L914.3,574.2 L914.6,577.1 L914.9,580.1 L915.2,583.1 L915.5,586.2 L915.8,589.2 L916.1,592.3 L916.4,595.4 L916.8,598.5 L917.1,601.6 L917.4,604.7 L917.7,607.8 L918.0,610.9 L918.4,613.9 L918.7,617.0 L919.0,620.0 L919.3,623.0 L919.7,626.0 L920.0,629.1 L920.3,632.1 L920.7,635.1 L921.0,638.2 L921.4,641.2 L921.7,644.3 L922.1,647.3 L922.4,650.3 L922.8,653.4 L923.1,656.4 L923.5,659.4 L923.9,662.4 L924.2,665.4 L924.6,668.4 L924.9,671.3 L925.3,674.2 L925.6,677.1 L926.0,680.0 L926.4,683.3 L926.8,686.5 L927.2,689.7 L927.6,692.8 L928.0,696.0 L928.4,699.1 L928.8,702.2 L929.2,705.3 L929.6,708.4 L930.0,711.5 L930.4,714.5 L930.8,717.6 L931.2,720.7 L931.7,723.8 L932.1,726.9 L932.5,730.0 L932.9,733.1 L933.4,736.3 L933.8,739.5 L934.2,742.6 L934.7,745.8 L935.1,749.0 L935.5,752.2 L936.0,755.4 L936.4,758.5 L936.9,761.7 L937.3,764.8 L937.8,767.9 L938.2,771.0 L938.6,774.0 L939.1,777.0 L939.5,780.0 L940.0,783.2 L940.4,786.5 L940.9,789.7 L941.4,792.9 L941.8,796.1 L942.3,799.3 L942.8,802.4 L943.2,805.5 L943.7,808.5 L944.1,811.5 L944.6,814.4 L945.1,817.2 L945.5,820.0 L946.1,823.5 L946.6,826.8 L947.2,830.1 L947.7,833.3 L948.3,836.4 L948.8,839.3 L949.4,842.2 L950.0,845.0 L950.8,848.2 L951.6,851.2 L952.4,854.1 L953.2,857.0 L954.0,860.0 L954.7,863.0 L955.4,866.1 L956.0,869.3 L956.8,872.5 L957.6,875.4 L958.5,878.0 L960.1,881.3 L961.9,884.2 L964.0,887.0 L966.4,889.8 L969.0,892.5 L972.0,895.0 L974.6,896.8 L977.5,898.5 L980.5,900.1 L983.6,901.6 L986.5,903.0 L989.4,904.2 L992.3,905.2 L995.1,906.2 L998.0,907.2 L1001.2,908.4 L1004.5,909.7 L1007.9,910.9 L1011.2,912.3 L1014.0,913.5 L1016.7,914.8 L1019.5,916.1 L1022.3,917.4 L1025.1,918.6 L1028.1,919.7 L1031.1,920.8 L1034.1,921.9 L1037.1,922.9 L1040.0,924.0 L1043.0,925.2 L1045.8,926.3 L1048.8,927.5 L1052.3,928.8 L1054.5,929.6 L1057.0,930.5 L1059.7,931.5 L1062.6,932.5 L1065.7,933.6 L1068.8,934.7 L1071.9,935.8 L1075.1,936.9 L1078.3,938.0 L1081.4,939.1 L1084.4,940.1 L1087.3,941.1 L1090.0,942.0 L1093.2,943.1 L1096.2,944.1 L1099.0,945.0 L1101.7,946.0 L1104.5,946.9 L1107.5,947.8 L1110.8,948.9 L1114.5,950.0 L1116.7,950.7 L1119.1,951.4 L1121.5,952.1 L1124.1,952.9 L1126.8,953.7 L1129.6,954.5 L1132.4,955.4 L1135.3,956.2 L1138.3,957.1 L1141.3,958.0 L1144.4,958.9 L1147.6,959.8 L1150.8,960.7 L1154.0,961.6 L1157.2,962.5 L1160.5,963.4 L1163.7,964.3 L1167.0,965.2 L1170.2,966.1 L1173.4,967.0 L1176.6,967.8 L1179.8,968.7 L1182.9,969.5 L1186.0,970.2 L1189.0,971.0 L1192.0,971.7 L1194.9,972.4 L1197.9,973.2 L1200.9,973.8 L1203.8,974.5 L1206.8,975.2 L1209.8,975.9 L1212.7,976.6 L1215.7,977.2 L1218.7,977.9 L1221.6,978.5 L1224.6,979.1 L1227.6,979.8 L1230.5,980.4 L1233.5,981.0 L1236.5,981.6 L1239.5,982.2 L1242.4,982.8 L1245.4,983.4 L1248.4,984.0 L1251.4,984.5 L1254.4,985.1 L1257.4,985.7 L1260.4,986.2 L1263.4,986.8 L1266.4,987.4 L1269.5,987.9 L1272.5,988.5 L1275.5,989.0 L1278.5,989.5 L1281.5,990.0 L1284.6,990.5 L1287.6,991.1 L1290.6,991.6 L1293.6,992.0 L1296.7,992.5 L1299.7,993.0 L1302.7,993.5 L1305.8,994.0 L1308.8,994.4 L1311.9,994.9 L1315.0,995.4 L1318.0,995.8 L1321.1,996.3 L1324.2,996.7 L1327.4,997.2 L1330.5,997.7 L1333.7,998.1 L1336.8,998.6 L1340.0,999.0 L1342.9,999.4 L1345.8,999.8 L1348.8,1000.2 L1351.8,1000.6 L1354.8,1001.0 L1357.9,1001.5 L1361.0,1001.9 L1364.1,1002.3 L1367.2,1002.7 L1370.3,1003.1 L1373.4,1003.5 L1376.6,1003.9 L1379.7,1004.3 L1382.8,1004.7 L1386.0,1005.1 L1389.1,1005.4 L1392.2,1005.8 L1395.3,1006.2 L1398.4,1006.6 L1401.4,1006.9 L1404.4,1007.3 L1407.4,1007.6 L1410.4,1007.9 L1413.3,1008.3 L1416.2,1008.6 L1419.1,1008.9 L1421.9,1009.2 L1424.6,1009.5 L1427.4,1009.7 L1430.0,1010.0 L1433.3,1010.3 L1436.5,1010.6 L1439.7,1010.9 L1442.7,1011.2 L1445.7,1011.4 L1448.6,1011.6 L1451.5,1011.9 L1454.4,1012.1 L1457.2,1012.3 L1460.0,1012.5 L1462.9,1012.7 L1465.7,1012.8 L1468.6,1013.0 L1471.5,1013.2 L1474.5,1013.4 L1477.6,1013.5 L1480.7,1013.7 L1483.9,1013.9 L1486.7,1014.1 L1489.6,1014.2 L1492.5,1014.3 L1495.5,1014.5 L1498.5,1014.6 L1501.5,1014.7 L1504.6,1014.9 L1507.7,1015.0 L1510.8,1015.1 L1513.9,1015.2 L1517.1,1015.3 L1520.2,1015.5 L1523.4,1015.6 L1526.6,1015.7 L1529.7,1015.8 L1532.9,1015.9 L1536.1,1016.0 L1539.3,1016.1 L1542.4,1016.3 L1545.5,1016.4 L1548.7,1016.5 L1551.8,1016.6 L1554.8,1016.7 L1557.9,1016.9 L1560.9,1017.0 L1564.0,1017.1 L1567.0,1017.3 L1570.1,1017.4 L1573.1,1017.6 L1576.2,1017.7 L1579.2,1017.9 L1582.2,1018.0 L1585.2,1018.1 L1588.2,1018.3 L1591.2,1018.4 L1594.2,1018.6 L1597.2,1018.7 L1600.2,1018.9 L1603.1,1019.1 L1606.1,1019.2 L1609.1,1019.4 L1612.1,1019.5 L1615.0,1019.7 L1618.0,1019.8 L1621.0,1020.0 L1624.0,1020.2 L1627.0,1020.3 L1630.0,1020.5 L1633.0,1020.7 L1636.2,1020.9 L1639.3,1021.1 L1642.5,1021.3 L1645.8,1021.6 L1649.0,1021.9 L1652.3,1022.1 L1655.6,1022.4 L1658.9,1022.7 L1662.1,1022.9 L1665.4,1023.2 L1668.6,1023.4 L1671.8,1023.7 L1674.9,1023.9 L1678.0,1024.1 L1681.0,1024.3 L1683.9,1024.5 L1686.7,1024.6 L1689.5,1024.7 L1692.1,1024.7 L1694.6,1024.8 L1697.0,1024.8 L1699.3,1024.7 L1703.3,1024.4 L1706.9,1023.8 L1710.3,1023.2 L1713.4,1022.5 L1716.5,1021.9 L1719.4,1021.6 L1722.3,1021.6 L1725.5,1022.1 L1728.3,1023.1 L1731.2,1024.2 L1734.2,1025.3 L1737.7,1026.2 L1740.2,1026.6 L1742.9,1027.0 L1745.7,1027.4 L1748.7,1027.7 L1751.7,1028.0 L1754.9,1028.2 L1758.2,1028.4 L1761.6,1028.6 L1765.1,1028.8 L1768.7,1029.0 L1772.4,1029.1 L1776.2,1029.3 L1778.7,1029.4 L1781.2,1029.5 L1783.9,1029.5 L1786.6,1029.6 L1789.4,1029.6 L1792.3,1029.6 L1795.2,1029.6 L1798.2,1029.6 L1801.2,1029.6 L1804.3,1029.6 L1807.4,1029.6 L1810.5,1029.5 L1813.7,1029.5 L1816.9,1029.5 L1820.1,1029.4 L1823.3,1029.4 L1826.5,1029.4 L1829.8,1029.3 L1833.0,1029.3 L1836.2,1029.3 L1839.4,1029.2 L1842.6,1029.2 L1845.7,1029.2 L1848.8,1029.2 L1851.9,1029.2 L1855.0,1029.2 L1858.0,1029.3 L1860.9,1029.3 L1864.0,1029.4 L1867.2,1029.4 L1870.3,1029.5 L1873.4,1029.6 L1876.5,1029.6 L1879.6,1029.7 L1882.6,1029.8 L1885.7,1029.9 L1888.7,1030.0 L1891.7,1030.1 L1894.8,1030.2 L1897.8,1030.3 L1900.8,1030.4 L1903.8,1030.5 L1906.8,1030.6 L1909.8,1030.8 L1912.8,1030.9 L1915.9,1031.0 L1918.9,1031.1 L1921.9,1031.2 L1924.9,1031.3 L1927.9,1031.4 L1931.0,1031.5 L1934.0,1031.6" fill="none" stroke="#90f0b0" stroke-opacity="0.45" stroke-width="10" stroke-linejoin="round" stroke-linecap="round"/>
<path d="M282.0,147.0 L282.5,150.0 L282.9,153.1 L283.3,156.1 L283.7,159.2 L284.1,162.3 L284.5,165.4 L285.0,168.4 L285.5,171.4 L286.1,174.3 L286.7,177.2 L287.4,180.0 L288.4,183.3 L289.4,186.6 L290.5,189.7 L291.7,192.8 L293.0,195.9 L294.4,198.9 L295.8,201.8 L297.3,204.8 L298.9,207.8 L300.5,210.8 L302.1,213.8 L303.8,216.8 L305.7,219.7 L307.7,222.4 L309.8,224.9 L312.2,227.2 L314.5,229.1 L317.0,230.7 L319.5,232.2 L322.3,233.6 L325.1,234.9 L328.0,236.1 L331.0,237.3 L334.0,238.4 L337.1,239.6 L339.9,240.6 L342.9,241.7 L346.0,242.7 L349.1,243.7 L352.3,244.6 L355.6,245.5 L358.8,246.4 L362.1,247.2 L365.3,248.0 L368.4,248.7 L371.4,249.4 L374.3,250.0 L377.7,250.7 L381.0,251.2 L384.3,251.7 L387.5,252.1 L390.6,252.5 L393.7,252.8 L396.9,253.2 L400.0,253.5 L403.0,253.8 L406.0,254.1 L409.0,254.3 L412.0,254.6 L415.0,254.8 L418.0,255.0 L421.0,255.2 L424.0,255.5 L427.2,255.8 L430.4,256.1 L433.7,256.4 L437.0,256.8 L440.2,257.1 L443.5,257.4 L446.8,257.7 L450.0,258.0 L453.1,258.2 L456.3,258.5 L459.4,258.6 L462.5,258.8 L465.6,259.0 L468.8,259.2 L471.9,259.3 L475.0,259.5 L478.1,259.7 L481.2,259.8 L484.4,259.9 L487.5,260.1 L490.6,260.2 L493.7,260.3 L496.9,260.5 L500.0,260.6 L503.0,260.7 L505.9,260.9 L508.8,261.0 L511.7,261.2 L514.6,261.3 L517.8,261.5 L521.2,261.6 L525.0,261.8 L527.3,261.9 L529.7,262.0 L532.2,262.1 L534.9,262.2 L537.7,262.3 L540.6,262.4 L543.5,262.5 L546.6,262.6 L549.7,262.7 L552.9,262.8 L556.1,262.9 L559.3,263.0 L562.6,263.1 L565.9,263.2 L569.2,263.3 L572.5,263.5 L575.8,263.6 L579.0,263.8 L582.2,263.9 L585.4,264.1 L588.4,264.2 L591.5,264.4 L594.4,264.6 L597.3,264.8 L600.0,265.0 L603.4,265.3 L606.7,265.6 L610.0,265.9 L613.3,266.2 L616.5,266.5 L619.7,266.8 L622.8,267.2 L625.9,267.5 L628.9,267.9 L631.9,268.3 L634.9,268.7 L637.9,269.1 L640.9,269.5 L643.8,269.9 L646.8,270.3 L649.7,270.8 L652.9,271.3 L656.1,271.8 L659.3,272.4 L662.5,272.9 L665.6,273.5 L668.7,274.1 L671.8,274.7 L674.8,275.3 L677.8,275.9 L680.8,276.6 L683.7,277.3 L686.6,278.0 L689.4,278.7 L692.6,279.6 L695.8,280.5 L699.0,281.4 L702.1,282.3 L705.2,283.3 L708.1,284.3 L711.1,285.3 L713.9,286.4 L716.6,287.5 L719.2,288.7 L722.6,290.3 L725.8,291.9 L728.9,293.5 L731.7,295.3 L734.5,297.3 L737.0,299.6 L739.0,302.0 L740.8,304.8 L742.4,307.7 L744.0,310.8 L745.5,313.8 L747.2,316.7 L749.0,319.4 L751.0,321.7 L753.1,323.8 L755.3,325.8 L757.5,327.8 L759.7,329.9 L761.9,332.0 L763.9,334.3 L765.7,336.6 L767.4,339.0 L769.0,341.5 L770.6,344.1 L772.1,346.7 L773.7,349.3 L775.3,352.0 L777.0,354.7 L778.5,357.2 L780.0,360.0 L781.6,362.8 L783.1,365.7 L784.7,368.6 L786.3,371.4 L787.9,374.1 L789.6,376.5 L791.3,378.7 L793.1,380.6 L795.8,382.7 L798.7,384.3 L801.6,385.5 L804.7,386.7 L808.0,388.0 L810.8,389.1 L813.8,390.1 L816.9,391.1 L820.2,392.1 L823.4,393.1 L826.6,394.2 L829.7,395.4 L832.6,396.7 L835.5,398.2 L838.3,399.8 L840.9,401.4 L843.6,403.2 L846.1,405.1 L848.7,407.0 L851.2,409.1 L853.4,411.0 L855.5,413.0 L857.6,415.1 L859.6,417.2 L861.7,419.5 L863.7,421.8 L865.7,424.1 L867.7,426.4 L869.7,428.8 L871.6,431.1 L873.6,433.4 L875.5,435.8 L877.5,438.2 L879.4,440.6 L881.3,443.1 L883.2,445.6 L884.9,448.2 L886.6,450.8 L888.2,453.5 L889.6,456.1 L890.9,458.8 L892.2,461.5 L893.4,464.2 L894.5,467.0 L895.6,469.9 L896.7,472.7 L897.7,475.6 L898.7,478.5 L899.7,481.5 L900.6,484.4 L901.5,487.3 L902.3,490.1 L903.1,493.1 L903.8,496.0 L904.5,499.0 L905.2,502.0 L905.8,505.0 L906.5,508.0 L907.1,511.0 L907.7,514.0 L908.4,517.0 L909.0,520.0 L909.7,523.1 L910.3,526.2 L911.0,529.3 L911.6,532.3 L912.2,535.3 L912.8,538.4 L913.4,541.5 L914.1,544.7 L914.7,548.0 L915.3,551.4 L916.0,555.0 L916.5,557.7 L917.0,560.4 L917.5,563.3 L918.0,566.2 L918.5,569.1 L919.0,572.2 L919.5,575.3 L920.0,578.4 L920.6,581.6 L921.1,584.8 L921.6,588.0 L922.2,591.3 L922.7,594.5 L923.2,597.8 L923.8,601.0 L924.3,604.3 L924.9,607.5 L925.4,610.7 L925.9,613.8 L926.5,616.9 L927.0,620.0 L927.5,623.1 L928.1,626.1 L928.6,629.2 L929.2,632.2 L929.7,635.3 L930.3,638.4 L930.9,641.4 L931.4,644.4 L932.0,647.5 L932.5,650.5 L933.1,653.5 L933.7,656.5 L934.2,659.5 L934.8,662.5 L935.3,665.4 L935.9,668.4 L936.4,671.3 L936.9,674.2 L937.5,677.1 L938.0,680.0 L938.6,683.3 L939.2,686.5 L939.7,689.7 L940.3,692.8 L940.8,696.0 L941.4,699.1 L941.9,702.3 L942.5,705.4 L943.0,708.4 L943.6,711.5 L944.1,714.6 L944.7,717.7 L945.3,720.8 L945.8,723.8 L946.4,726.9 L947.0,730.0 L947.6,733.1 L948.2,736.2 L948.8,739.4 L949.4,742.7 L950.0,745.9 L950.6,749.2 L951.2,752.4 L951.8,755.6 L952.4,758.8 L953.1,761.9 L953.7,764.9 L954.3,767.8 L955.0,770.6 L955.7,773.2 L956.3,775.7 L957.0,778.0 L958.1,781.5 L959.1,784.6 L960.1,787.5 L961.2,790.2 L962.5,792.7 L964.0,795.0 L966.4,797.7 L969.1,800.1 L972.1,802.1 L975.0,804.0 L977.7,805.5 L980.3,806.6 L983.2,807.7 L986.5,809.0 L989.0,810.0 L991.8,811.0 L994.8,812.2 L998.0,813.3 L1001.3,814.5 L1004.6,815.7 L1008.0,816.9 L1011.3,818.1 L1014.4,819.2 L1017.4,820.2 L1020.7,821.3 L1023.7,822.4 L1026.6,823.4 L1029.6,824.3 L1032.7,825.4 L1036.1,826.5 L1040.0,827.7 L1042.2,828.4 L1044.5,829.1 L1046.9,829.9 L1049.5,830.7 L1052.1,831.5 L1054.9,832.3 L1057.7,833.2 L1060.6,834.1 L1063.6,835.0 L1066.7,835.9 L1069.8,836.9 L1072.9,837.8 L1076.1,838.8 L1079.3,839.8 L1082.6,840.7 L1085.9,841.7 L1089.1,842.7 L1092.4,843.6 L1095.6,844.6 L1098.9,845.5 L1102.1,846.5 L1105.3,847.4 L1108.4,848.3 L1111.5,849.2 L1114.5,850.0 L1117.5,850.8 L1120.4,851.7 L1123.4,852.5 L1126.4,853.4 L1129.4,854.2 L1132.3,855.0 L1135.3,855.9 L1138.3,856.7 L1141.3,857.6 L1144.2,858.4 L1147.2,859.2 L1150.2,860.0 L1153.2,860.8 L1156.1,861.6 L1159.1,862.4 L1162.1,863.2 L1165.1,863.9 L1168.1,864.7 L1171.1,865.4 L1174.0,866.1 L1177.0,866.8 L1180.0,867.5 L1183.0,868.2 L1186.0,868.8 L1189.0,869.4 L1192.0,870.0 L1194.9,870.5 L1197.9,871.1 L1200.8,871.6 L1203.8,872.0 L1206.8,872.5 L1209.7,872.9 L1212.7,873.4 L1215.7,873.8 L1218.6,874.2 L1221.6,874.6 L1224.6,875.0 L1227.6,875.3 L1230.5,875.7 L1233.5,876.1 L1236.5,876.4 L1239.5,876.8 L1242.5,877.1 L1245.4,877.5 L1248.4,877.9 L1251.4,878.2 L1254.4,878.6 L1257.4,879.0 L1260.4,879.4 L1263.4,879.8 L1266.5,880.2 L1269.6,880.6 L1272.7,881.1 L1275.8,881.5 L1279.0,881.9 L1282.2,882.4 L1285.4,882.8 L1288.6,883.2 L1291.8,883.7 L1295.0,884.1 L1298.2,884.5 L1301.4,885.0 L1304.5,885.4 L1307.7,885.8 L1310.8,886.3 L1313.9,886.7 L1317.0,887.1 L1320.1,887.5 L1323.1,887.9 L1326.0,888.3 L1328.9,888.7 L1331.8,889.1 L1334.6,889.5 L1337.3,889.8 L1340.0,890.2 L1343.5,890.7 L1346.8,891.2 L1350.0,891.6 L1353.1,892.1 L1356.2,892.6 L1359.1,893.0 L1362.1,893.5 L1365.0,893.9 L1368.0,894.4 L1371.0,894.8 L1374.0,895.2 L1377.2,895.5 L1380.5,895.9 L1383.9,896.2 L1386.6,896.4 L1389.4,896.6 L1392.3,896.8 L1395.3,897.0 L1398.4,897.1 L1401.5,897.2 L1404.7,897.4 L1407.9,897.5 L1411.1,897.6 L1414.4,897.6 L1417.6,897.7 L1420.9,897.8 L1424.1,897.9 L1427.3,898.0 L1430.5,898.1 L1433.6,898.2 L1436.6,898.3 L1439.6,898.4 L1442.5,898.6 L1445.3,898.7 L1448.0,898.9 L1450.6,899.1 L1453.1,899.3 L1456.6,899.7 L1459.8,900.1 L1462.8,900.6 L1465.6,901.1 L1468.4,901.7 L1471.2,902.2 L1474.0,902.7 L1477.0,903.1 L1480.3,903.5 L1483.9,903.9 L1486.3,904.1 L1488.9,904.2 L1491.5,904.4 L1494.2,904.5 L1497.0,904.6 L1499.9,904.7 L1502.9,904.7 L1505.9,904.8 L1509.0,904.8 L1512.1,904.8 L1515.3,904.8 L1518.5,904.8 L1521.8,904.8 L1525.1,904.8 L1528.4,904.8 L1531.7,904.9 L1535.0,904.9 L1538.3,904.9 L1541.6,904.9 L1544.9,905.0 L1548.2,905.0 L1551.4,905.1 L1554.6,905.2 L1557.8,905.3 L1560.9,905.4 L1563.9,905.5 L1566.9,905.7 L1570.0,905.9 L1573.0,906.1 L1576.0,906.3 L1579.1,906.6 L1582.1,906.8 L1585.1,907.1 L1588.1,907.3 L1591.2,907.6 L1594.2,907.9 L1597.2,908.1 L1600.3,908.4 L1603.3,908.7 L1606.4,908.9 L1609.4,909.2 L1612.5,909.4 L1615.5,909.7 L1618.6,909.9 L1621.6,910.1 L1624.7,910.3 L1627.7,910.5 L1630.8,910.7 L1633.9,910.8 L1636.9,910.9 L1640.0,911.0 L1643.1,911.1 L1646.2,911.1 L1649.4,911.1 L1652.7,911.0 L1656.1,910.9 L1659.4,910.8 L1662.8,910.7 L1666.3,910.6 L1669.7,910.4 L1673.2,910.2 L1676.6,910.1 L1680.1,909.9 L1683.5,909.7 L1686.8,909.6 L1690.1,909.4 L1693.4,909.2 L1696.6,909.1 L1699.7,909.0 L1702.7,908.9 L1705.6,908.8 L1708.4,908.7 L1711.1,908.7 L1713.6,908.7 L1716.0,908.8 L1718.3,908.9 L1720.4,909.0 L1722.3,909.2 L1726.0,909.8 L1728.8,910.6 L1731.2,911.5 L1734.0,912.4 L1737.7,913.1 L1739.6,913.3 L1741.9,913.6 L1744.3,913.7 L1747.0,913.9 L1749.9,914.0 L1753.0,914.1 L1756.2,914.2 L1759.6,914.3 L1763.1,914.4 L1766.6,914.4 L1770.3,914.5 L1774.0,914.5 L1777.7,914.5 L1781.5,914.5 L1785.2,914.6 L1788.9,914.6 L1792.5,914.7 L1796.1,914.7 L1799.5,914.8 L1802.9,914.8 L1806.1,914.9 L1809.1,915.0 L1811.9,915.2 L1814.5,915.3 L1816.9,915.5 L1819.0,915.7 L1820.9,915.9 L1822.4,916.2 L1826.6,917.9 L1830.1,919.2 L1832.6,919.2 L1835.2,918.7 L1838.1,918.1 L1841.5,917.4 L1845.5,916.9 L1847.4,916.8 L1849.4,916.7 L1851.6,916.6 L1854.0,916.6 L1856.5,916.6 L1859.1,916.5 L1861.8,916.5 L1864.6,916.6 L1867.6,916.6 L1870.6,916.6 L1873.7,916.7 L1876.9,916.8 L1880.2,916.8 L1883.5,916.9 L1886.9,917.0 L1890.3,917.1 L1893.7,917.2 L1897.2,917.3 L1900.6,917.4 L1904.1,917.5 L1907.6,917.6 L1911.0,917.7 L1914.5,917.8 L1917.8,917.9 L1921.2,917.9 L1924.5,918.0 L1927.7,918.1 L1930.9,918.1 L1934.0,918.2" fill="none" stroke="#ff9cff" stroke-opacity="0.45" stroke-width="10" stroke-linejoin="round" stroke-linecap="round"/>
<path d="M282.0,147.0 L282.6,149.9 L283.2,152.8 L283.8,155.7 L284.4,158.7 L285.0,162.0 L285.4,164.8 L285.9,167.8 L286.3,170.9 L286.7,174.2 L287.1,177.6 L287.6,180.9 L288.0,184.1 L288.5,187.2 L289.0,190.0 L289.7,194.2 L290.3,198.5 L291.0,202.5 L291.8,205.6 L293.0,207.0 L295.3,205.8 L298.0,203.0 L300.7,200.6 L303.6,198.0 L307.0,195.5 L309.5,194.1 L312.3,192.7 L315.2,191.4 L318.3,190.1 L321.5,188.8 L324.7,187.5 L327.6,186.3 L330.6,185.1 L333.6,183.8 L336.8,182.6 L340.0,181.4 L343.2,180.3 L346.3,179.3 L349.5,178.5 L352.5,177.9 L355.5,177.3 L358.5,176.9 L361.6,176.6 L364.6,176.3 L367.7,176.1 L370.8,175.8 L374.0,175.5 L376.9,175.2 L380.0,175.0 L383.1,174.8 L386.3,174.6 L389.5,174.4 L392.6,174.3 L395.7,174.0 L398.6,173.8 L401.4,173.5 L404.0,173.2 L407.3,172.6 L410.4,171.7 L413.3,170.9 L416.1,170.3 L419.0,170.0 L421.8,170.1 L424.6,170.6 L427.4,171.3 L430.4,171.9 L433.9,172.5 L436.3,172.8 L439.0,173.0 L441.9,173.3 L444.9,173.6 L448.1,173.8 L451.3,174.0 L454.7,174.3 L458.1,174.5 L461.6,174.7 L465.1,174.9 L468.5,175.0 L472.0,175.2 L475.3,175.3 L478.6,175.4 L481.7,175.5 L484.8,175.5 L487.8,175.5 L491.0,175.5 L494.1,175.5 L497.2,175.5 L500.3,175.4 L503.4,175.4 L506.5,175.3 L509.6,175.3 L512.7,175.2 L515.8,175.1 L518.9,175.1 L522.0,175.0 L525.0,175.0 L528.1,175.0 L531.3,174.9 L534.4,174.9 L537.6,174.9 L540.7,174.8 L543.9,174.8 L547.0,174.8 L550.1,174.7 L553.2,174.7 L556.2,174.7 L559.2,174.7 L562.2,174.7 L565.1,174.7 L568.0,174.7 L571.4,174.7 L574.6,174.8 L577.7,174.8 L580.8,174.9 L583.9,175.0 L586.9,175.1 L590.1,175.2 L593.2,175.3 L596.5,175.4 L600.0,175.5 L602.8,175.6 L605.7,175.7 L608.6,175.8 L611.6,175.9 L614.7,176.0 L617.8,176.1 L621.0,176.3 L624.1,176.4 L627.3,176.5 L630.5,176.7 L633.7,176.8 L636.8,177.0 L639.9,177.1 L643.0,177.3 L646.0,177.5 L649.0,177.7 L652.3,177.9 L655.6,178.2 L658.8,178.4 L662.0,178.6 L665.3,178.9 L668.4,179.1 L671.6,179.4 L674.7,179.7 L677.9,180.0 L680.9,180.3 L684.0,180.7 L687.0,181.1 L690.0,181.5 L693.2,182.0 L696.4,182.5 L699.6,183.0 L702.8,183.5 L705.9,184.1 L709.0,184.7 L712.0,185.3 L714.9,185.9 L717.7,186.6 L720.4,187.3 L723.0,188.0 L726.1,189.0 L728.9,190.0 L731.5,191.1 L734.1,192.2 L736.9,193.4 L740.0,194.7 L742.4,195.6 L744.9,196.6 L747.6,197.6 L750.4,198.6 L753.3,199.7 L756.2,200.8 L759.2,201.9 L762.2,203.1 L765.3,204.3 L768.3,205.5 L771.2,206.8 L774.2,208.1 L777.0,209.5 L779.7,210.9 L782.5,212.3 L785.2,213.8 L788.0,215.3 L790.7,216.8 L793.5,218.4 L796.2,220.0 L798.9,221.6 L801.6,223.3 L804.2,225.0 L806.8,226.7 L809.3,228.4 L811.7,230.1 L814.1,231.8 L816.6,233.7 L819.1,235.6 L821.4,237.5 L823.7,239.4 L826.0,241.3 L828.1,243.3 L830.3,245.3 L832.4,247.4 L834.6,249.5 L836.7,251.7 L838.8,254.0 L840.8,256.3 L842.8,258.6 L844.9,261.0 L846.9,263.4 L848.8,265.9 L850.8,268.4 L852.7,271.0 L854.7,273.7 L856.5,276.3 L858.3,279.0 L860.1,281.8 L861.8,284.6 L863.5,287.4 L865.0,290.0 L866.4,292.7 L867.8,295.5 L869.1,298.3 L870.4,301.1 L871.7,304.0 L873.0,306.9 L874.2,309.8 L875.3,312.8 L876.5,315.7 L877.6,318.6 L878.8,321.5 L879.9,324.4 L880.9,327.2 L882.0,330.0 L883.1,332.9 L884.2,335.8 L885.2,338.7 L886.2,341.5 L887.2,344.4 L888.2,347.2 L889.1,350.0 L890.0,352.8 L890.9,355.6 L891.8,358.5 L892.7,361.3 L893.5,364.1 L894.4,367.0 L895.3,370.1 L896.2,373.2 L897.1,376.2 L897.9,379.3 L898.8,382.4 L899.6,385.5 L900.4,388.6 L901.2,391.7 L902.0,394.8 L902.7,397.9 L903.5,401.0 L904.3,404.1 L905.1,407.2 L905.8,410.3 L906.6,413.3 L907.3,416.4 L908.1,419.5 L908.8,422.6 L909.5,425.7 L910.2,428.8 L910.9,431.9 L911.6,435.0 L912.3,438.1 L913.0,441.2 L913.6,444.1 L914.3,447.0 L914.9,449.8 L915.5,452.7 L916.1,455.5 L916.7,458.4 L917.3,461.3 L917.9,464.2 L918.6,467.2 L919.2,470.2 L919.8,473.4 L920.4,476.6 L921.0,480.0 L921.5,482.6 L921.9,485.3 L922.4,488.1 L922.9,490.9 L923.4,493.8 L923.8,496.8 L924.3,499.8 L924.8,502.8 L925.2,505.9 L925.7,509.0 L926.2,512.1 L926.7,515.3 L927.1,518.5 L927.6,521.6 L928.1,524.8 L928.6,528.0 L929.1,531.2 L929.5,534.4 L930.0,537.6 L930.5,540.7 L931.0,543.8 L931.5,546.9 L932.0,550.0 L932.5,553.0 L933.0,556.1 L933.5,559.2 L934.0,562.2 L934.6,565.3 L935.1,568.4 L935.6,571.5 L936.1,574.6 L936.7,577.6 L937.2,580.7 L937.7,583.8 L938.3,586.9 L938.8,589.9 L939.3,593.0 L939.9,596.1 L940.4,599.1 L940.9,602.1 L941.5,605.1 L942.0,608.1 L942.5,611.1 L943.0,614.1 L943.5,617.1 L944.0,620.0 L944.5,623.1 L945.1,626.2 L945.6,629.3 L946.1,632.4 L946.6,635.4 L947.2,638.5 L947.7,641.6 L948.2,644.6 L948.7,647.6 L949.2,650.6 L949.7,653.6 L950.2,656.6 L950.7,659.6 L951.2,662.5 L951.7,665.5 L952.2,668.4 L952.6,671.3 L953.1,674.2 L953.6,677.1 L954.0,680.0 L954.5,683.2 L955.0,686.5 L955.5,689.6 L955.9,692.8 L956.4,696.0 L956.8,699.1 L957.3,702.2 L957.7,705.3 L958.1,708.4 L958.6,711.4 L959.0,714.5 L959.4,717.6 L959.8,720.7 L960.2,723.8 L960.6,726.9 L961.0,730.0 L961.4,733.1 L961.8,736.3 L962.1,739.5 L962.5,742.7 L962.9,745.9 L963.2,749.1 L963.6,752.3 L963.9,755.5 L964.2,758.7 L964.6,761.8 L964.9,765.0 L965.2,768.0 L965.6,771.1 L965.9,774.1 L966.2,777.1 L966.5,780.0 L966.8,783.2 L967.2,786.3 L967.5,789.3 L967.8,792.2 L968.1,795.1 L968.4,798.0 L968.7,800.9 L969.1,803.8 L969.4,806.8 L969.7,809.9 L970.0,813.1 L970.4,816.5 L970.7,819.2 L970.9,821.9 L971.2,824.8 L971.5,827.7 L971.8,830.7 L972.0,833.8 L972.3,836.9 L972.6,840.1 L972.9,843.2 L973.2,846.5 L973.5,849.7 L973.8,852.9 L974.1,856.1 L974.4,859.3 L974.7,862.4 L975.1,865.5 L975.4,868.5 L975.8,871.5 L976.2,874.4 L976.6,877.3 L977.0,880.0 L977.6,883.4 L978.2,886.7 L978.9,889.9 L979.6,893.0 L980.3,896.1 L981.0,899.1 L981.8,902.1 L982.5,905.1 L983.2,908.1 L983.9,911.2 L984.5,914.3 L985.1,917.5 L985.7,920.8 L986.1,923.6 L986.5,926.5 L986.9,929.4 L987.2,932.4 L987.5,935.4 L987.8,938.4 L988.1,941.5 L988.4,944.6 L988.6,947.7 L988.9,950.8 L989.1,953.9 L989.4,957.0 L989.7,960.1 L989.9,963.1 L990.2,966.2 L990.5,969.2 L990.9,972.2 L991.2,975.1 L991.6,978.2 L991.9,981.3 L992.3,984.3 L992.7,987.4 L993.1,990.5 L993.4,993.6 L993.8,996.6 L994.2,999.6 L994.6,1002.6 L995.0,1005.6 L995.5,1008.6 L995.9,1011.5 L996.4,1014.3 L996.9,1017.2 L997.4,1020.0 L998.0,1022.7 L998.7,1026.1 L999.4,1029.4 L1000.2,1032.8 L1001.0,1036.0 L1001.8,1039.3 L1002.6,1042.4 L1003.5,1045.5 L1004.4,1048.5 L1005.4,1051.4 L1006.4,1054.1 L1007.5,1056.7 L1009.1,1060.2 L1010.7,1063.4 L1012.5,1066.5 L1014.3,1069.3 L1016.3,1072.0 L1018.4,1074.4 L1020.9,1076.7 L1023.7,1078.8 L1026.5,1080.7 L1029.3,1082.4 L1031.9,1083.9 L1034.6,1085.5 L1037.2,1086.9 L1040.0,1088.1 L1042.7,1089.0 L1045.5,1089.8 L1048.7,1090.6 L1052.3,1091.5 L1054.5,1092.1 L1057.0,1092.8 L1059.8,1093.5 L1062.6,1094.2 L1065.7,1095.0 L1068.8,1095.9 L1072.0,1096.7 L1075.2,1097.5 L1078.3,1098.4 L1081.4,1099.2 L1084.4,1100.0 L1087.3,1100.8 L1090.0,1101.5 L1093.2,1102.4 L1096.2,1103.3 L1099.0,1104.2 L1101.7,1105.0 L1104.5,1105.9 L1107.5,1106.7 L1110.8,1107.6 L1114.5,1108.5 L1116.7,1109.0 L1119.1,1109.5 L1121.7,1110.1 L1124.3,1110.6 L1127.1,1111.2 L1130.0,1111.8 L1132.9,1112.4 L1136.0,1112.9 L1139.1,1113.5 L1142.3,1114.1 L1145.5,1114.7 L1148.7,1115.3 L1152.0,1115.9 L1155.3,1116.5 L1158.6,1117.1 L1161.9,1117.7 L1165.1,1118.2 L1168.4,1118.8 L1171.5,1119.4 L1174.7,1119.9 L1177.7,1120.4 L1180.7,1120.9 L1183.6,1121.4 L1186.3,1121.9 L1189.0,1122.4 L1192.3,1123.0 L1195.6,1123.5 L1198.8,1124.1 L1202.0,1124.6 L1205.1,1125.1 L1208.1,1125.6 L1211.1,1126.1 L1214.1,1126.5 L1217.0,1127.0 L1219.9,1127.4 L1222.7,1127.9 L1225.5,1128.4 L1228.3,1128.8 L1231.0,1129.3 L1233.7,1129.8 L1236.9,1130.4 L1239.8,1131.0 L1242.6,1131.5 L1245.4,1132.1 L1248.1,1132.7 L1250.8,1133.3 L1253.7,1133.9 L1256.7,1134.5 L1259.9,1135.1 L1263.4,1135.8 L1265.8,1136.3 L1268.4,1136.7 L1271.0,1137.2 L1273.8,1137.7 L1276.7,1138.2 L1279.6,1138.8 L1282.7,1139.3 L1285.8,1139.9 L1289.0,1140.5 L1292.2,1141.0 L1295.4,1141.6 L1298.7,1142.2 L1302.1,1142.8 L1305.4,1143.3 L1308.7,1143.9 L1312.0,1144.5 L1315.4,1145.1 L1318.6,1145.6 L1321.9,1146.2 L1325.1,1146.7 L1328.2,1147.2 L1331.3,1147.8 L1334.3,1148.3 L1337.2,1148.7 L1340.0,1149.2 L1343.3,1149.7 L1346.6,1150.3 L1349.9,1150.9 L1353.1,1151.4 L1356.3,1152.0 L1359.5,1152.5 L1362.6,1153.1 L1365.7,1153.6 L1368.8,1154.1 L1371.8,1154.6 L1374.8,1155.0 L1377.7,1155.4 L1380.6,1155.8 L1383.4,1156.2 L1386.2,1156.5 L1388.9,1156.8 L1391.6,1157.0 L1395.0,1157.2 L1398.2,1157.3 L1401.2,1157.3 L1404.2,1157.3 L1407.1,1157.3 L1410.0,1157.2 L1412.9,1157.1 L1416.0,1157.0 L1419.1,1157.0 L1422.4,1157.0 L1425.3,1157.0 L1428.3,1157.1 L1431.4,1157.1 L1434.7,1157.2 L1438.0,1157.2 L1441.4,1157.3 L1444.7,1157.3 L1448.1,1157.4 L1451.4,1157.5 L1454.6,1157.6 L1457.8,1157.7 L1460.7,1157.9 L1463.5,1158.0 L1466.1,1158.3 L1468.5,1158.5 L1471.9,1159.0 L1474.6,1159.7 L1477.2,1160.4 L1480.1,1161.1 L1483.9,1161.6 L1485.8,1161.8 L1488.0,1161.9 L1490.4,1162.1 L1493.0,1162.2 L1495.8,1162.4 L1498.8,1162.5 L1501.9,1162.6 L1505.2,1162.7 L1508.6,1162.8 L1512.1,1162.8 L1515.7,1162.9 L1519.4,1163.0 L1523.1,1163.0 L1526.9,1163.0 L1530.6,1163.0 L1534.4,1163.0 L1538.1,1163.0 L1541.8,1163.0 L1545.5,1163.0 L1549.0,1162.9 L1552.5,1162.8 L1555.8,1162.8 L1559.0,1162.7 L1562.1,1162.6 L1565.0,1162.4 L1567.7,1162.3 L1570.2,1162.1 L1572.5,1162.0 L1574.5,1161.8 L1576.3,1161.6 L1580.2,1160.8 L1583.0,1159.7 L1585.6,1158.8 L1588.6,1158.5 L1591.4,1159.0 L1594.3,1160.0 L1597.2,1161.3 L1600.3,1162.7 L1603.5,1163.9 L1607.0,1164.7 L1609.7,1165.0 L1612.6,1165.2 L1615.7,1165.2 L1618.9,1165.1 L1622.2,1165.0 L1625.5,1164.8 L1628.7,1164.5 L1631.8,1164.3 L1634.8,1164.0 L1637.5,1163.7 L1640.0,1163.5 L1643.5,1163.0 L1646.4,1162.4 L1649.3,1161.9 L1653.0,1161.6 L1655.3,1161.6 L1657.9,1161.7 L1660.7,1161.9 L1663.8,1162.2 L1667.0,1162.5 L1670.4,1162.9 L1673.8,1163.3 L1677.3,1163.7 L1680.8,1164.1 L1684.2,1164.5 L1687.6,1164.9 L1690.8,1165.1 L1693.9,1165.3 L1696.7,1165.4 L1699.3,1165.4 L1703.1,1165.1 L1706.6,1164.4 L1709.9,1163.6 L1713.0,1162.9 L1716.1,1162.5 L1719.3,1162.4 L1722.3,1162.9 L1725.2,1163.7 L1728.0,1164.8 L1730.9,1165.9 L1734.1,1166.9 L1737.7,1167.7 L1740.2,1168.1 L1743.0,1168.4 L1746.1,1168.8 L1749.3,1169.1 L1752.7,1169.4 L1756.2,1169.6 L1759.8,1169.8 L1763.3,1170.0 L1766.8,1170.1 L1770.1,1170.1 L1773.4,1170.1 L1776.4,1170.0 L1779.2,1169.9 L1781.7,1169.6 L1783.9,1169.3 L1787.9,1167.9 L1790.9,1166.0 L1794.7,1164.7 L1797.1,1164.4 L1799.8,1164.3 L1802.8,1164.2 L1806.0,1164.4 L1809.3,1164.6 L1812.8,1164.9 L1816.3,1165.2 L1819.8,1165.7 L1823.4,1166.1 L1826.8,1166.6 L1830.1,1167.0 L1833.2,1167.5 L1836.5,1168.2 L1839.9,1169.0 L1843.3,1169.9 L1846.7,1170.8 L1850.1,1171.8 L1853.4,1172.6 L1856.5,1173.4 L1859.5,1174.1 L1862.3,1174.5 L1864.8,1174.7 L1867.0,1174.7 L1870.4,1173.7 L1873.0,1172.1 L1876.3,1170.8 L1878.6,1170.4 L1881.2,1170.0 L1884.1,1169.7 L1887.2,1169.5 L1890.5,1169.4 L1893.9,1169.3 L1897.3,1169.2 L1900.7,1169.2 L1904.0,1169.2 L1907.2,1169.2 L1910.1,1169.3 L1913.3,1169.4 L1916.4,1169.6 L1919.4,1169.9 L1922.3,1170.2 L1925.2,1170.6 L1928.1,1170.9 L1931.0,1171.3 L1934.0,1171.6" fill="none" stroke="#000000" stroke-width="5.5" stroke-linejoin="round" stroke-linecap="round"/>
<path d="M282.5,146.0 L283.7,147.8 L285.0,150.0 L285.9,152.3 L286.8,155.1 L287.7,158.3 L288.6,161.7 L289.6,165.0 L290.5,168.0 L291.4,171.3 L292.3,174.9 L293.2,178.3 L294.2,181.0 L295.5,182.5 L297.6,182.5 L300.0,181.5 L302.9,180.3 L306.3,178.7 L310.0,177.0 L312.5,175.9 L315.1,174.7 L317.9,173.5 L320.9,172.3 L323.8,171.1 L326.7,170.0 L329.6,169.0 L332.7,168.1 L335.7,167.4 L338.8,166.7 L341.8,166.1 L344.9,165.6 L347.9,165.0 L350.9,164.4 L353.8,163.8 L356.7,163.3 L359.6,162.8 L362.7,162.4 L365.8,162.0 L369.0,161.8 L372.3,161.6 L375.6,161.5 L379.0,161.5 L382.5,161.5 L386.0,161.5 L389.6,161.5 L392.8,161.5 L396.1,161.5 L399.6,161.4 L403.0,161.4 L406.5,161.4 L409.9,161.5 L413.2,161.5 L416.4,161.6 L419.4,161.8 L422.7,162.0 L425.8,162.4 L428.8,162.7 L431.7,163.1 L434.5,163.4 L437.3,163.8 L440.5,164.2 L443.5,164.7 L446.6,165.1 L450.0,165.5 L452.7,165.7 L455.7,166.0 L458.8,166.2 L462.0,166.4 L465.3,166.6 L468.6,166.7 L471.8,166.9 L475.0,167.0 L478.1,167.1 L481.2,167.2 L484.2,167.3 L487.2,167.3 L490.3,167.4 L493.5,167.4 L496.7,167.4 L500.0,167.5 L503.0,167.5 L506.0,167.6 L509.1,167.6 L512.3,167.7 L515.5,167.7 L518.8,167.8 L522.0,167.8 L525.3,167.9 L528.6,167.9 L531.8,168.0 L535.0,168.0 L538.2,168.0 L541.4,168.1 L544.6,168.1 L547.8,168.1 L551.1,168.1 L554.3,168.1 L557.5,168.1 L560.6,168.1 L563.8,168.2 L566.9,168.2 L570.0,168.3 L573.1,168.4 L576.0,168.5 L578.9,168.6 L581.8,168.7 L584.7,168.8 L587.6,168.9 L590.5,169.0 L593.6,169.2 L596.7,169.3 L600.0,169.5 L602.7,169.6 L605.6,169.8 L608.5,169.9 L611.5,170.1 L614.6,170.2 L617.7,170.4 L620.8,170.6 L624.0,170.7 L627.2,170.9 L630.4,171.1 L633.6,171.3 L636.8,171.5 L639.9,171.7 L643.0,171.9 L646.0,172.1 L649.0,172.3 L652.3,172.5 L655.6,172.8 L658.8,173.0 L662.0,173.2 L665.3,173.5 L668.4,173.7 L671.6,174.0 L674.7,174.2 L677.9,174.5 L680.9,174.8 L684.0,175.2 L687.0,175.6 L690.0,176.0 L693.2,176.5 L696.3,177.0 L699.5,177.5 L702.6,178.1 L705.6,178.7 L708.7,179.3 L711.6,180.0 L714.6,180.7 L717.4,181.4 L720.3,182.1 L723.0,182.9 L726.1,183.8 L729.1,184.8 L731.9,185.9 L734.7,186.9 L737.5,188.1 L740.3,189.2 L743.2,190.4 L746.2,191.6 L748.8,192.7 L751.5,193.7 L754.2,194.8 L757.0,196.0 L759.8,197.1 L762.6,198.3 L765.5,199.5 L768.3,200.7 L771.2,202.0 L774.1,203.3 L777.0,204.6 L779.8,205.9 L782.6,207.2 L785.6,208.5 L788.5,209.8 L791.5,211.2 L794.5,212.6 L797.4,214.0 L800.4,215.5 L803.3,216.9 L806.1,218.4 L808.9,220.0 L811.5,221.5 L814.1,223.1 L816.9,224.9 L819.5,226.7 L822.1,228.6 L824.6,230.5 L827.0,232.4 L829.4,234.4 L831.8,236.4 L834.1,238.5 L836.4,240.7 L838.8,242.9 L841.0,245.0 L843.1,247.2 L845.3,249.4 L847.4,251.7 L849.6,254.1 L851.7,256.5 L853.7,258.9 L855.8,261.3 L857.8,263.8 L859.7,266.3 L861.7,268.8 L863.5,271.3 L865.3,273.8 L867.0,276.3 L868.7,278.8 L870.4,281.4 L872.0,284.0 L873.6,286.6 L875.1,289.2 L876.6,291.8 L878.1,294.4 L879.4,297.0 L880.8,299.6 L882.0,302.2 L883.4,305.3 L884.6,308.3 L885.8,311.3 L886.8,314.3 L887.9,317.4 L888.9,320.4 L889.9,323.5 L890.9,326.7 L892.0,330.0 L893.0,332.9 L894.0,335.8 L895.1,338.9 L896.1,341.9 L897.2,345.0 L898.3,348.1 L899.3,351.3 L900.4,354.4 L901.4,357.6 L902.4,360.7 L903.4,363.9 L904.3,367.0 L905.2,370.1 L906.1,373.1 L906.9,376.2 L907.8,379.3 L908.6,382.4 L909.4,385.5 L910.2,388.6 L910.9,391.6 L911.7,394.7 L912.5,397.8 L913.2,400.9 L914.0,404.0 L914.8,407.1 L915.5,410.1 L916.3,413.2 L917.1,416.3 L917.8,419.3 L918.5,422.4 L919.3,425.5 L920.0,428.6 L920.7,431.7 L921.3,434.8 L921.9,437.9 L922.5,441.0 L923.0,443.9 L923.5,446.8 L923.9,449.7 L924.3,452.5 L924.6,455.4 L925.0,458.3 L925.3,461.2 L925.6,464.1 L926.0,467.1 L926.3,470.2 L926.7,473.4 L927.1,476.6 L927.5,480.0 L927.9,482.6 L928.2,485.4 L928.6,488.1 L929.0,491.0 L929.4,493.9 L929.8,496.8 L930.2,499.8 L930.7,502.8 L931.1,505.9 L931.5,509.0 L932.0,512.1 L932.4,515.3 L932.9,518.5 L933.3,521.7 L933.8,524.8 L934.2,528.0 L934.6,531.2 L935.0,534.4 L935.5,537.6 L935.9,540.7 L936.3,543.8 L936.6,546.9 L937.0,550.0 L937.4,553.0 L937.7,556.1 L938.0,559.2 L938.4,562.2 L938.7,565.3 L939.0,568.4 L939.3,571.5 L939.6,574.6 L939.9,577.6 L940.2,580.7 L940.5,583.8 L940.8,586.9 L941.1,589.9 L941.4,593.0 L941.7,596.0 L941.9,599.1 L942.2,602.1 L942.5,605.1 L942.8,608.1 L943.1,611.1 L943.4,614.1 L943.7,617.1 L944.0,620.0 L944.3,623.1 L944.7,626.2 L945.0,629.3 L945.3,632.4 L945.6,635.5 L946.0,638.5 L946.3,641.6 L946.6,644.6 L947.0,647.6 L947.3,650.6 L947.6,653.6 L947.9,656.6 L948.3,659.6 L948.6,662.5 L948.9,665.5 L949.2,668.4 L949.6,671.3 L949.9,674.2 L950.2,677.1 L950.5,680.0 L950.9,683.3 L951.2,686.5 L951.6,689.7 L951.9,692.8 L952.3,696.0 L952.6,699.1 L953.0,702.2 L953.3,705.3 L953.7,708.4 L954.0,711.4 L954.3,714.5 L954.7,717.6 L955.0,720.7 L955.3,723.8 L955.7,726.9 L956.0,730.0 L956.3,733.1 L956.6,736.3 L956.9,739.5 L957.2,742.7 L957.5,745.9 L957.8,749.1 L958.1,752.3 L958.4,755.5 L958.7,758.7 L959.0,761.8 L959.3,765.0 L959.7,768.1 L960.0,771.1 L960.3,774.1 L960.6,777.1 L961.0,780.0 L961.4,783.2 L961.9,786.3 L962.4,789.3 L962.8,792.2 L963.3,795.1 L963.8,798.0 L964.3,800.9 L964.8,803.8 L965.3,806.8 L965.7,809.9 L966.1,813.1 L966.5,816.5 L966.8,819.2 L967.0,821.9 L967.2,824.8 L967.3,827.8 L967.5,830.9 L967.6,834.0 L967.7,837.2 L967.8,840.4 L968.0,843.6 L968.1,846.9 L968.2,850.1 L968.3,853.4 L968.4,856.6 L968.5,859.8 L968.6,862.9 L968.8,866.0 L969.0,869.0 L969.2,871.9 L969.4,874.7 L969.7,877.4 L970.0,880.0 L970.5,883.7 L971.1,887.1 L971.7,890.5 L972.3,893.7 L973.0,896.8 L973.7,899.9 L974.4,902.9 L975.1,905.9 L975.8,908.9 L976.5,912.0 L977.2,915.3 L978.0,918.6 L978.7,921.9 L979.5,925.2 L980.2,928.5 L981.0,931.7 L981.7,934.8 L982.4,938.0 L983.0,941.0 L983.6,944.3 L984.2,947.5 L984.6,950.6 L985.1,953.6 L985.7,956.7 L986.3,959.8 L987.0,963.0 L987.7,965.9 L988.5,968.9 L989.3,972.0 L990.2,975.1 L991.1,978.2 L992.1,981.2 L993.1,984.0 L994.1,986.6 L995.2,989.0 L997.0,992.3 L998.9,995.1 L1001.0,997.7 L1003.0,1000.0 L1005.3,1002.2 L1007.6,1004.2 L1010.0,1006.0 L1013.4,1008.6 L1017.0,1011.0 L1020.8,1013.1 L1025.0,1015.0 L1027.6,1015.9 L1030.4,1016.7 L1033.5,1017.4 L1036.7,1018.2 L1040.0,1019.0 L1042.9,1019.7 L1046.0,1020.5 L1049.2,1021.3 L1052.6,1022.2 L1055.9,1023.0 L1059.3,1023.8 L1062.7,1024.6 L1065.9,1025.4 L1069.0,1026.1 L1072.0,1026.8 L1075.0,1027.5 L1078.0,1028.2 L1081.0,1028.9 L1084.0,1029.6 L1087.0,1030.3 L1090.0,1031.0 L1093.0,1031.7 L1095.9,1032.4 L1098.8,1033.1 L1101.8,1033.8 L1104.8,1034.5 L1107.9,1035.3 L1111.1,1036.0 L1114.5,1036.8 L1117.1,1037.4 L1119.9,1038.0 L1122.7,1038.6 L1125.7,1039.3 L1128.7,1040.0 L1131.8,1040.6 L1135.0,1041.3 L1138.2,1042.0 L1141.3,1042.7 L1144.5,1043.3 L1147.6,1044.0 L1150.6,1044.6 L1153.6,1045.3 L1156.5,1045.8 L1159.2,1046.4 L1162.4,1047.0 L1165.3,1047.6 L1168.2,1048.2 L1170.9,1048.7 L1173.6,1049.3 L1176.4,1049.8 L1179.3,1050.3 L1182.3,1050.8 L1185.5,1051.4 L1189.0,1052.0 L1191.5,1052.4 L1194.0,1052.8 L1196.7,1053.2 L1199.5,1053.7 L1202.3,1054.1 L1205.3,1054.6 L1208.3,1055.0 L1211.3,1055.5 L1214.5,1055.9 L1217.7,1056.4 L1220.9,1056.8 L1224.2,1057.3 L1227.4,1057.8 L1230.8,1058.2 L1234.1,1058.7 L1237.4,1059.2 L1240.7,1059.7 L1244.0,1060.2 L1247.3,1060.6 L1250.5,1061.1 L1253.7,1061.6 L1256.9,1062.1 L1260.0,1062.5 L1263.0,1063.0 L1266.1,1063.5 L1269.1,1064.0 L1272.1,1064.5 L1275.0,1065.0 L1277.9,1065.5 L1280.8,1066.0 L1283.6,1066.5 L1286.4,1067.0 L1289.3,1067.5 L1292.1,1068.0 L1295.0,1068.5 L1297.9,1069.0 L1300.8,1069.5 L1303.7,1070.0 L1306.7,1070.5 L1309.8,1071.0 L1312.9,1071.5 L1316.2,1072.0 L1319.5,1072.5 L1322.9,1073.0 L1326.4,1073.4 L1330.0,1073.9 L1332.4,1074.2 L1334.9,1074.5 L1337.4,1074.8 L1340.0,1075.1 L1342.5,1075.4 L1345.2,1075.7 L1347.9,1076.0 L1350.6,1076.3 L1353.3,1076.6 L1356.1,1076.9 L1359.0,1077.2 L1361.8,1077.5 L1364.7,1077.8 L1367.6,1078.1 L1370.6,1078.4 L1373.5,1078.7 L1376.5,1079.0 L1379.6,1079.3 L1382.6,1079.6 L1385.7,1079.9 L1388.8,1080.2 L1391.9,1080.5 L1395.0,1080.8 L1398.2,1081.1 L1401.3,1081.3 L1404.5,1081.6 L1407.7,1081.9 L1410.9,1082.2 L1414.1,1082.4 L1417.3,1082.7 L1420.5,1083.0 L1423.7,1083.3 L1426.9,1083.5 L1430.1,1083.8 L1433.4,1084.0 L1436.6,1084.3 L1439.8,1084.5 L1443.0,1084.8 L1446.3,1085.0 L1449.5,1085.3 L1452.7,1085.5 L1455.8,1085.8 L1459.0,1086.0 L1462.2,1086.2 L1465.3,1086.4 L1468.5,1086.7 L1471.6,1086.9 L1474.7,1087.1 L1477.8,1087.3 L1480.9,1087.5 L1483.9,1087.7 L1486.9,1087.9 L1489.9,1088.1 L1492.9,1088.3 L1496.0,1088.4 L1499.1,1088.6 L1502.1,1088.8 L1505.2,1089.0 L1508.3,1089.1 L1511.5,1089.3 L1514.6,1089.5 L1517.7,1089.6 L1520.8,1089.8 L1524.0,1089.9 L1527.1,1090.1 L1530.3,1090.2 L1533.5,1090.4 L1536.6,1090.5 L1539.8,1090.7 L1542.9,1090.8 L1546.1,1090.9 L1549.2,1091.1 L1552.4,1091.2 L1555.6,1091.3 L1558.7,1091.4 L1561.8,1091.5 L1565.0,1091.7 L1568.1,1091.8 L1571.2,1091.9 L1574.3,1092.0 L1577.4,1092.1 L1580.4,1092.2 L1583.5,1092.3 L1586.5,1092.4 L1589.6,1092.5 L1592.6,1092.6 L1595.6,1092.7 L1598.5,1092.8 L1601.5,1092.9 L1604.4,1093.0 L1607.3,1093.0 L1610.2,1093.1 L1613.1,1093.2 L1615.9,1093.3 L1618.7,1093.4 L1621.5,1093.4 L1624.2,1093.5 L1626.9,1093.6 L1629.6,1093.6 L1632.3,1093.7 L1634.9,1093.8 L1637.5,1093.8 L1640.0,1093.9 L1643.5,1094.0 L1647.1,1094.0 L1650.6,1094.1 L1654.2,1094.1 L1657.8,1094.1 L1661.3,1094.1 L1664.8,1094.1 L1668.3,1094.1 L1671.8,1094.1 L1675.2,1094.1 L1678.6,1094.1 L1682.0,1094.1 L1685.2,1094.1 L1688.5,1094.0 L1691.6,1094.0 L1694.7,1094.0 L1697.7,1094.0 L1700.7,1094.0 L1703.5,1094.0 L1706.3,1094.0 L1708.9,1094.1 L1711.4,1094.1 L1713.9,1094.2 L1716.2,1094.3 L1718.3,1094.4 L1720.4,1094.5 L1722.3,1094.6 L1726.0,1095.0 L1728.7,1095.5 L1731.2,1096.0 L1734.0,1096.4 L1737.7,1096.9 L1739.6,1097.1 L1741.6,1097.2 L1743.8,1097.4 L1746.1,1097.6 L1748.5,1097.7 L1751.1,1097.9 L1753.8,1098.1 L1756.6,1098.2 L1759.5,1098.4 L1762.5,1098.5 L1765.6,1098.7 L1768.8,1098.8 L1772.0,1099.0 L1775.3,1099.1 L1778.7,1099.2 L1782.1,1099.4 L1785.5,1099.5 L1789.0,1099.6 L1792.5,1099.8 L1796.0,1099.9 L1799.5,1100.0 L1803.0,1100.1 L1806.5,1100.2 L1810.0,1100.3 L1813.5,1100.4 L1816.9,1100.5 L1820.3,1100.6 L1823.6,1100.7 L1826.9,1100.7 L1830.1,1100.8 L1833.1,1100.9 L1836.1,1100.9 L1839.0,1101.0 L1842.0,1101.0 L1845.1,1101.0 L1848.1,1101.1 L1851.1,1101.1 L1854.1,1101.1 L1857.2,1101.1 L1860.2,1101.1 L1863.3,1101.1 L1866.3,1101.1 L1869.4,1101.1 L1872.4,1101.1 L1875.5,1101.1 L1878.6,1101.1 L1881.7,1101.1 L1884.7,1101.0 L1887.8,1101.0 L1890.9,1101.0 L1894.0,1101.0 L1897.1,1101.0 L1900.2,1101.0 L1903.3,1100.9 L1906.3,1100.9 L1909.4,1100.9 L1912.5,1100.9 L1915.6,1100.9 L1918.7,1100.8 L1921.7,1100.8 L1924.8,1100.8 L1927.9,1100.8 L1930.9,1100.8 L1934.0,1100.8" fill="none" stroke="#c41a1e" stroke-width="5.5" stroke-linejoin="round" stroke-linecap="round"/>
<path d="M282.0,147.0 L282.9,150.3 L283.7,153.7 L284.6,157.0 L285.5,160.3 L286.3,163.6 L287.2,166.9 L288.0,170.0 L288.8,173.2 L289.6,176.4 L290.3,179.5 L291.1,182.5 L292.0,185.3 L293.0,188.0 L294.4,190.8 L295.9,193.3 L297.6,195.8 L299.8,198.6 L301.3,200.5 L302.9,202.5 L304.8,204.7 L306.7,207.0 L308.8,209.4 L311.0,211.8 L313.2,214.2 L315.5,216.6 L317.8,218.8 L320.1,221.0 L322.4,222.9 L324.7,224.7 L327.3,226.5 L329.9,228.1 L332.6,229.5 L335.2,230.8 L338.0,232.0 L340.7,233.2 L343.6,234.4 L346.5,235.7 L349.5,237.1 L352.1,238.4 L354.9,239.8 L357.7,241.2 L360.6,242.7 L363.5,244.2 L366.5,245.7 L369.5,247.2 L372.5,248.6 L375.5,250.0 L378.4,251.3 L381.2,252.5 L384.0,253.6 L386.7,254.5 L390.0,255.5 L393.2,256.3 L396.3,256.9 L399.3,257.4 L402.4,257.9 L405.4,258.4 L408.4,258.9 L411.5,259.4 L414.6,260.0 L417.6,260.6 L420.7,261.2 L423.7,261.8 L426.8,262.4 L429.9,263.0 L433.1,263.5 L436.4,264.0 L439.3,264.4 L442.2,264.8 L445.2,265.1 L448.3,265.5 L451.4,265.8 L454.6,266.1 L457.7,266.4 L460.8,266.7 L463.9,266.9 L467.0,267.2 L470.0,267.5 L473.1,267.8 L476.2,268.1 L479.2,268.3 L482.2,268.6 L485.3,268.9 L488.3,269.1 L491.3,269.4 L494.2,269.6 L497.1,269.8 L500.0,270.0 L503.2,270.2 L506.2,270.4 L509.2,270.5 L512.2,270.7 L515.2,270.8 L518.3,270.9 L521.6,271.1 L525.0,271.2 L527.7,271.3 L530.6,271.4 L533.6,271.5 L536.6,271.6 L539.8,271.7 L542.9,271.8 L546.2,271.9 L549.4,272.0 L552.6,272.1 L555.8,272.2 L559.0,272.3 L562.1,272.4 L565.1,272.5 L568.0,272.6 L571.4,272.7 L574.6,272.8 L577.7,273.0 L580.8,273.1 L583.9,273.2 L586.9,273.3 L590.0,273.4 L593.2,273.5 L596.5,273.7 L600.0,273.8 L602.8,273.9 L605.7,274.0 L608.7,274.1 L611.8,274.1 L614.9,274.2 L618.1,274.3 L621.3,274.3 L624.5,274.4 L627.8,274.5 L631.0,274.6 L634.2,274.7 L637.4,274.9 L640.6,275.0 L643.7,275.2 L646.7,275.4 L649.7,275.7 L652.9,276.0 L656.1,276.4 L659.2,276.7 L662.3,277.1 L665.3,277.5 L668.4,277.9 L671.4,278.4 L674.4,278.9 L677.4,279.4 L680.4,279.9 L683.4,280.5 L686.4,281.1 L689.4,281.7 L692.5,282.4 L695.8,283.1 L699.1,283.9 L702.5,284.8 L705.9,285.7 L709.2,286.6 L712.5,287.5 L715.7,288.4 L718.8,289.3 L721.7,290.2 L724.4,291.0 L726.9,291.8 L729.1,292.6 L733.2,294.2 L736.4,295.6 L740.0,297.2 L742.9,298.3 L745.9,299.5 L749.2,300.7 L752.4,302.0 L755.7,303.2 L758.9,304.5 L761.9,305.7 L764.9,306.9 L767.9,308.1 L770.8,309.4 L773.9,310.7 L777.0,312.0 L779.8,313.2 L782.7,314.5 L785.7,315.8 L788.7,317.2 L791.7,318.5 L794.6,319.9 L797.4,321.2 L800.0,322.4 L803.0,323.8 L805.7,325.1 L808.4,326.4 L811.1,327.8 L814.1,329.4 L816.6,330.8 L819.2,332.3 L821.9,333.9 L824.8,335.6 L827.6,337.4 L830.5,339.3 L833.3,341.2 L836.1,343.3 L838.8,345.4 L841.2,347.4 L843.5,349.5 L845.9,351.8 L848.2,354.1 L850.6,356.5 L852.9,358.9 L855.1,361.3 L857.3,363.7 L859.4,366.1 L861.5,368.5 L863.5,370.8 L865.8,373.4 L868.0,376.0 L870.1,378.6 L872.1,381.2 L874.1,383.7 L876.0,386.3 L877.8,389.0 L879.6,391.8 L881.2,394.4 L882.7,397.0 L884.1,399.7 L885.5,402.4 L886.8,405.1 L888.1,407.9 L889.4,410.7 L890.6,413.6 L891.9,416.5 L893.1,419.4 L894.3,422.4 L895.5,425.5 L896.7,428.5 L897.9,431.7 L899.0,434.8 L900.1,438.0 L901.1,441.1 L902.1,444.3 L903.1,447.4 L904.0,450.4 L904.8,453.4 L905.7,456.3 L906.4,459.3 L907.2,462.2 L907.9,465.3 L908.6,468.3 L909.2,471.5 L909.9,474.8 L910.5,478.2 L911.0,480.9 L911.4,483.6 L911.8,486.3 L912.2,489.1 L912.5,492.0 L912.9,494.9 L913.2,497.8 L913.5,500.8 L913.8,503.9 L914.1,507.0 L914.5,510.1 L914.8,513.3 L915.1,516.5 L915.5,519.8 L915.8,523.2 L916.2,526.6 L916.6,530.0 L916.9,532.6 L917.2,535.3 L917.6,538.1 L917.9,540.9 L918.3,543.8 L918.6,546.7 L919.0,549.7 L919.3,552.7 L919.7,555.8 L920.1,558.8 L920.5,562.0 L920.8,565.1 L921.2,568.2 L921.6,571.4 L922.0,574.6 L922.4,577.8 L922.8,581.0 L923.2,584.1 L923.6,587.3 L923.9,590.4 L924.3,593.6 L924.7,596.7 L925.1,599.7 L925.4,602.8 L925.8,605.8 L926.1,608.7 L926.5,611.6 L926.8,614.5 L927.2,617.3 L927.5,620.0 L927.9,623.3 L928.3,626.5 L928.7,629.7 L929.0,632.9 L929.4,636.0 L929.8,639.1 L930.1,642.1 L930.5,645.1 L930.8,648.1 L931.2,651.1 L931.5,654.0 L931.9,657.0 L932.2,659.9 L932.6,662.8 L932.9,665.7 L933.2,668.5 L933.5,671.4 L933.9,674.3 L934.2,677.1 L934.5,680.0 L934.9,683.2 L935.2,686.5 L935.5,689.7 L935.9,692.8 L936.2,696.0 L936.5,699.1 L936.9,702.2 L937.2,705.3 L937.5,708.4 L937.8,711.4 L938.1,714.5 L938.4,717.6 L938.7,720.7 L939.0,723.8 L939.3,726.9 L939.6,730.0 L939.9,733.1 L940.2,736.2 L940.5,739.4 L940.7,742.5 L941.0,745.6 L941.3,748.7 L941.6,751.9 L941.8,755.0 L942.1,758.1 L942.4,761.2 L942.6,764.4 L942.9,767.5 L943.2,770.6 L943.4,773.7 L943.7,776.9 L944.0,780.0 L944.3,783.1 L944.6,786.3 L944.8,789.4 L945.1,792.5 L945.4,795.6 L945.7,798.8 L946.0,801.9 L946.2,805.0 L946.5,808.1 L946.8,811.3 L947.1,814.4 L947.4,817.5 L947.7,820.6 L947.9,823.8 L948.2,826.9 L948.5,830.0 L948.8,833.2 L949.0,836.4 L949.3,839.7 L949.5,843.0 L949.8,846.3 L950.0,849.6 L950.3,852.9 L950.5,856.2 L950.8,859.5 L951.1,862.7 L951.3,865.8 L951.6,868.9 L951.9,871.8 L952.3,874.7 L952.6,877.4 L953.0,880.0 L953.7,883.8 L954.4,887.3 L955.2,890.6 L955.9,893.8 L956.7,896.9 L957.4,899.9 L958.1,903.0 L958.7,906.0 L959.1,908.9 L959.6,911.7 L960.1,914.5 L960.6,917.5 L961.3,920.8 L961.9,923.5 L962.6,926.5 L963.3,929.6 L964.0,932.8 L964.8,936.1 L965.6,939.5 L966.5,942.8 L967.5,946.0 L968.5,949.1 L969.6,952.1 L970.8,954.8 L972.2,957.7 L973.7,960.6 L975.2,963.3 L976.8,966.0 L978.5,968.5 L980.4,970.8 L982.3,973.1 L984.4,975.1 L986.9,977.1 L989.5,978.9 L992.3,980.4 L995.3,981.8 L998.3,983.2 L1001.5,984.5 L1004.8,986.0 L1007.3,987.1 L1010.0,988.3 L1012.7,989.5 L1015.5,990.6 L1018.4,991.8 L1021.4,993.0 L1024.3,994.1 L1027.3,995.3 L1030.2,996.3 L1033.1,997.4 L1036.0,998.4 L1038.7,999.4 L1041.8,1000.5 L1045.0,1001.5 L1048.0,1002.4 L1051.1,1003.3 L1054.1,1004.2 L1057.1,1005.1 L1060.0,1005.9 L1063.0,1006.8 L1065.9,1007.8 L1069.0,1008.9 L1072.0,1010.0 L1075.0,1011.1 L1078.0,1012.2 L1081.0,1013.3 L1084.0,1014.4 L1087.0,1015.5 L1090.0,1016.6 L1093.0,1017.7 L1095.8,1018.7 L1098.6,1019.7 L1101.4,1020.6 L1104.3,1021.7 L1107.4,1022.7 L1110.8,1023.8 L1114.5,1025.0 L1116.7,1025.7 L1119.1,1026.4 L1121.5,1027.2 L1124.1,1028.0 L1126.8,1028.8 L1129.6,1029.6 L1132.4,1030.5 L1135.3,1031.3 L1138.3,1032.2 L1141.4,1033.1 L1144.5,1034.0 L1147.6,1034.9 L1150.8,1035.8 L1154.0,1036.7 L1157.2,1037.7 L1160.5,1038.6 L1163.7,1039.5 L1167.0,1040.4 L1170.2,1041.3 L1173.4,1042.2 L1176.6,1043.1 L1179.8,1043.9 L1182.9,1044.8 L1186.0,1045.6 L1189.0,1046.4 L1192.0,1047.2 L1194.9,1048.0 L1197.9,1048.7 L1200.9,1049.5 L1203.8,1050.3 L1206.8,1051.1 L1209.8,1051.8 L1212.7,1052.6 L1215.7,1053.3 L1218.7,1054.1 L1221.6,1054.8 L1224.6,1055.6 L1227.6,1056.3 L1230.5,1057.0 L1233.5,1057.7 L1236.5,1058.4 L1239.5,1059.1 L1242.4,1059.8 L1245.4,1060.5 L1248.4,1061.2 L1251.4,1061.8 L1254.4,1062.5 L1257.4,1063.1 L1260.4,1063.7 L1263.4,1064.3 L1266.4,1064.9 L1269.5,1065.5 L1272.6,1066.0 L1275.7,1066.6 L1278.8,1067.1 L1281.9,1067.6 L1285.0,1068.1 L1288.1,1068.6 L1291.2,1069.0 L1294.4,1069.5 L1297.5,1070.0 L1300.6,1070.4 L1303.7,1070.9 L1306.9,1071.3 L1310.0,1071.8 L1313.0,1072.2 L1316.1,1072.6 L1319.2,1073.1 L1322.2,1073.5 L1325.3,1073.9 L1328.3,1074.4 L1331.2,1074.8 L1334.2,1075.3 L1337.1,1075.7 L1340.0,1076.2 L1343.2,1076.7 L1346.3,1077.3 L1349.3,1077.8 L1352.3,1078.3 L1355.3,1078.9 L1358.2,1079.4 L1361.1,1079.9 L1364.0,1080.5 L1366.9,1081.0 L1369.8,1081.5 L1372.7,1082.0 L1375.6,1082.6 L1378.5,1083.1 L1381.5,1083.6 L1384.4,1084.1 L1387.5,1084.6 L1390.5,1085.1 L1393.6,1085.6 L1396.8,1086.0 L1400.0,1086.5 L1402.7,1086.9 L1405.5,1087.2 L1408.2,1087.6 L1411.0,1088.0 L1413.8,1088.3 L1416.6,1088.6 L1419.4,1089.0 L1422.2,1089.3 L1425.0,1089.6 L1427.8,1090.0 L1430.7,1090.3 L1433.6,1090.6 L1436.5,1090.9 L1439.4,1091.2 L1442.4,1091.5 L1445.4,1091.8 L1448.4,1092.1 L1451.4,1092.4 L1454.5,1092.7 L1457.6,1093.0 L1460.8,1093.3 L1463.9,1093.6 L1467.2,1093.9 L1470.4,1094.2 L1473.7,1094.5 L1477.1,1094.8 L1480.5,1095.1 L1483.9,1095.4 L1486.5,1095.6 L1489.1,1095.9 L1491.8,1096.1 L1494.6,1096.3 L1497.4,1096.6 L1500.2,1096.8 L1503.1,1097.0 L1506.1,1097.3 L1509.1,1097.5 L1512.1,1097.8 L1515.2,1098.0 L1518.4,1098.3 L1521.5,1098.5 L1524.7,1098.8 L1527.9,1099.0 L1531.1,1099.3 L1534.4,1099.5 L1537.7,1099.8 L1541.0,1100.0 L1544.3,1100.3 L1547.6,1100.5 L1550.9,1100.8 L1554.2,1101.0 L1557.5,1101.3 L1560.9,1101.5 L1564.2,1101.7 L1567.5,1102.0 L1570.8,1102.2 L1574.1,1102.4 L1577.4,1102.7 L1580.7,1102.9 L1583.9,1103.1 L1587.1,1103.3 L1590.3,1103.6 L1593.5,1103.8 L1596.6,1104.0 L1599.7,1104.2 L1602.7,1104.4 L1605.8,1104.6 L1608.7,1104.7 L1611.7,1104.9 L1614.5,1105.1 L1617.4,1105.3 L1620.1,1105.4 L1622.9,1105.6 L1625.5,1105.7 L1628.1,1105.9 L1630.6,1106.0 L1633.1,1106.2 L1635.5,1106.3 L1637.8,1106.4 L1640.0,1106.5 L1643.8,1106.7 L1647.4,1106.8 L1650.8,1106.9 L1654.1,1107.0 L1657.3,1107.0 L1660.4,1107.1 L1663.4,1107.1 L1666.3,1107.1 L1669.1,1107.2 L1672.0,1107.2 L1674.7,1107.2 L1677.5,1107.2 L1680.3,1107.3 L1683.0,1107.4 L1685.8,1107.4 L1688.7,1107.6 L1691.6,1107.7 L1694.7,1107.9 L1697.7,1108.1 L1700.6,1108.3 L1703.5,1108.6 L1706.3,1108.8 L1709.2,1109.1 L1712.0,1109.4 L1714.9,1109.7 L1717.8,1110.0 L1720.8,1110.3 L1723.9,1110.5 L1727.1,1110.8 L1730.5,1111.1 L1734.0,1111.4 L1737.7,1111.6 L1740.0,1111.7 L1742.5,1111.9 L1745.0,1112.0 L1747.7,1112.2 L1750.5,1112.3 L1753.3,1112.4 L1756.2,1112.6 L1759.2,1112.7 L1762.3,1112.8 L1765.5,1113.0 L1768.6,1113.1 L1771.9,1113.2 L1775.2,1113.4 L1778.5,1113.5 L1781.9,1113.6 L1785.3,1113.7 L1788.7,1113.9 L1792.1,1114.0 L1795.6,1114.1 L1799.0,1114.2 L1802.4,1114.3 L1805.9,1114.5 L1809.3,1114.6 L1812.7,1114.7 L1816.0,1114.8 L1819.3,1114.9 L1822.6,1115.0 L1825.9,1115.1 L1829.1,1115.2 L1832.2,1115.3 L1835.2,1115.4 L1838.2,1115.5 L1841.1,1115.6 L1844.0,1115.7 L1846.7,1115.8 L1849.3,1115.8 L1851.9,1115.9 L1854.3,1116.0 L1856.6,1116.1 L1858.8,1116.1 L1860.9,1116.2 L1864.8,1116.3 L1868.3,1116.5 L1871.5,1116.6 L1874.5,1116.7 L1877.3,1116.8 L1880.0,1116.9 L1882.7,1116.9 L1885.6,1117.0 L1888.5,1117.0 L1891.7,1117.0 L1894.5,1117.0 L1897.4,1116.9 L1900.3,1116.8 L1903.3,1116.7 L1906.3,1116.6 L1909.4,1116.5 L1912.4,1116.4 L1915.5,1116.2 L1918.6,1116.1 L1921.7,1115.9 L1924.8,1115.8 L1927.9,1115.7 L1931.0,1115.5 L1934.0,1115.4" fill="none" stroke="#0c0a88" stroke-width="5.5" stroke-linejoin="round" stroke-linecap="round"/>
<path d="M282.0,147.0 L282.7,150.2 L283.3,153.5 L283.9,156.8 L284.6,160.1 L285.2,163.3 L285.9,166.6 L286.6,169.8 L287.3,172.9 L288.0,176.0 L288.8,179.2 L289.6,182.3 L290.4,185.4 L291.3,188.5 L292.1,191.5 L293.0,194.4 L294.0,197.2 L295.0,200.0 L296.2,203.1 L297.5,206.0 L298.8,208.9 L300.1,211.6 L301.5,214.3 L303.0,217.0 L304.6,220.0 L306.3,222.9 L308.0,225.8 L309.9,228.5 L312.2,231.0 L314.3,232.9 L316.7,234.7 L319.2,236.5 L321.8,238.1 L324.5,239.6 L327.3,241.1 L330.0,242.5 L333.1,244.0 L336.1,245.2 L339.2,246.4 L342.5,247.6 L345.9,248.7 L349.5,250.0 L352.0,250.9 L354.5,251.8 L357.2,252.8 L360.0,253.8 L362.9,254.8 L365.8,255.8 L368.8,256.8 L371.8,257.8 L374.8,258.8 L377.8,259.7 L380.8,260.5 L383.8,261.3 L386.7,262.0 L389.8,262.6 L392.9,263.2 L396.1,263.6 L399.3,264.0 L402.5,264.4 L405.7,264.7 L408.9,265.0 L412.0,265.3 L415.1,265.6 L418.2,265.9 L421.1,266.2 L424.0,266.5 L427.5,267.0 L430.8,267.4 L434.1,267.9 L437.3,268.3 L440.5,268.7 L443.6,269.2 L446.8,269.6 L450.0,270.0 L453.1,270.4 L456.3,270.8 L459.4,271.1 L462.5,271.5 L465.6,271.9 L468.8,272.2 L471.9,272.5 L475.0,272.8 L478.1,273.1 L481.2,273.3 L484.4,273.5 L487.5,273.7 L490.6,273.9 L493.7,274.0 L496.9,274.2 L500.0,274.4 L503.0,274.6 L505.9,274.7 L508.8,274.9 L511.7,275.0 L514.6,275.2 L517.8,275.4 L521.2,275.6 L525.0,275.8 L527.3,275.9 L529.7,276.1 L532.2,276.3 L534.9,276.4 L537.7,276.6 L540.6,276.8 L543.5,277.0 L546.6,277.3 L549.7,277.5 L552.9,277.7 L556.1,277.9 L559.3,278.2 L562.6,278.4 L565.9,278.6 L569.2,278.9 L572.5,279.1 L575.8,279.3 L579.0,279.5 L582.2,279.7 L585.4,279.9 L588.5,280.1 L591.5,280.3 L594.4,280.4 L597.3,280.6 L600.0,280.7 L603.4,280.8 L606.7,281.0 L610.0,281.0 L613.3,281.1 L616.5,281.2 L619.6,281.2 L622.8,281.2 L625.9,281.3 L628.9,281.3 L631.9,281.3 L634.9,281.4 L637.8,281.5 L640.7,281.6 L643.5,281.7 L646.3,281.8 L649.0,282.0 L652.3,282.3 L655.6,282.5 L658.7,282.8 L661.7,283.1 L664.7,283.4 L667.6,283.8 L670.6,284.2 L673.5,284.7 L676.4,285.2 L679.4,285.7 L682.4,286.3 L685.4,287.0 L688.4,287.6 L691.4,288.4 L694.4,289.2 L697.4,290.0 L700.3,290.8 L703.3,291.7 L706.2,292.6 L709.2,293.6 L712.2,294.6 L715.2,295.7 L718.2,296.7 L721.2,297.9 L724.2,299.0 L727.2,300.2 L730.1,301.5 L733.1,302.8 L736.1,304.1 L739.0,305.5 L741.7,306.9 L744.5,308.3 L747.2,309.7 L749.9,311.2 L752.6,312.8 L755.3,314.4 L758.0,316.0 L760.7,317.6 L763.4,319.2 L766.1,320.8 L768.8,322.4 L771.4,323.9 L774.1,325.5 L776.9,327.2 L779.6,328.8 L782.4,330.5 L785.1,332.2 L787.9,333.8 L790.5,335.4 L793.1,337.0 L795.5,338.5 L797.8,339.9 L800.0,341.3 L803.1,343.3 L805.8,345.1 L808.4,346.8 L811.1,348.6 L814.1,350.4 L816.5,351.8 L819.2,353.1 L822.0,354.5 L824.8,355.8 L827.8,357.3 L830.7,358.7 L833.5,360.2 L836.2,361.8 L838.8,363.4 L841.4,365.2 L843.9,367.1 L846.3,369.1 L848.7,371.1 L851.0,373.2 L853.2,375.3 L855.3,377.3 L857.4,379.4 L859.7,381.8 L861.8,384.1 L863.9,386.5 L865.9,388.9 L867.8,391.5 L869.7,394.2 L871.3,396.7 L872.9,399.3 L874.5,402.0 L876.1,404.7 L877.6,407.6 L879.1,410.5 L880.5,413.5 L882.0,416.5 L883.2,419.1 L884.4,421.8 L885.6,424.5 L886.7,427.3 L887.9,430.1 L889.0,433.0 L890.1,435.9 L891.2,438.8 L892.3,441.7 L893.4,444.6 L894.4,447.4 L895.5,450.4 L896.6,453.5 L897.7,456.4 L898.8,459.4 L899.8,462.4 L900.8,465.5 L901.8,468.5 L902.7,471.7 L903.5,474.9 L904.3,478.2 L904.9,481.0 L905.4,483.8 L905.9,486.7 L906.3,489.7 L906.7,492.6 L907.1,495.7 L907.4,498.7 L907.7,501.8 L908.0,504.8 L908.3,507.9 L908.6,511.0 L908.9,514.0 L909.2,517.0 L909.5,520.0 L909.8,523.1 L910.1,526.1 L910.4,529.1 L910.7,532.1 L910.9,535.1 L911.1,538.1 L911.4,541.0 L911.6,544.1 L911.9,547.1 L912.1,550.2 L912.4,553.4 L912.7,556.7 L913.0,560.0 L913.3,562.7 L913.5,565.5 L913.8,568.3 L914.1,571.2 L914.3,574.2 L914.6,577.1 L914.9,580.1 L915.2,583.1 L915.5,586.2 L915.8,589.2 L916.1,592.3 L916.4,595.4 L916.8,598.5 L917.1,601.6 L917.4,604.7 L917.7,607.8 L918.0,610.9 L918.4,613.9 L918.7,617.0 L919.0,620.0 L919.3,623.0 L919.7,626.0 L920.0,629.1 L920.3,632.1 L920.7,635.1 L921.0,638.2 L921.4,641.2 L921.7,644.3 L922.1,647.3 L922.4,650.3 L922.8,653.4 L923.1,656.4 L923.5,659.4 L923.9,662.4 L924.2,665.4 L924.6,668.4 L924.9,671.3 L925.3,674.2 L925.6,677.1 L926.0,680.0 L926.4,683.3 L926.8,686.5 L927.2,689.7 L927.6,692.8 L928.0,696.0 L928.4,699.1 L928.8,702.2 L929.2,705.3 L929.6,708.4 L930.0,711.5 L930.4,714.5 L930.8,717.6 L931.2,720.7 L931.7,723.8 L932.1,726.9 L932.5,730.0 L932.9,733.1 L933.4,736.3 L933.8,739.5 L934.2,742.6 L934.7,745.8 L935.1,749.0 L935.5,752.2 L936.0,755.4 L936.4,758.5 L936.9,761.7 L937.3,764.8 L937.8,767.9 L938.2,771.0 L938.6,774.0 L939.1,777.0 L939.5,780.0 L940.0,783.2 L940.4,786.5 L940.9,789.7 L941.4,792.9 L941.8,796.1 L942.3,799.3 L942.8,802.4 L943.2,805.5 L943.7,808.5 L944.1,811.5 L944.6,814.4 L945.1,817.2 L945.5,820.0 L946.1,823.5 L946.6,826.8 L947.2,830.1 L947.7,833.3 L948.3,836.4 L948.8,839.3 L949.4,842.2 L950.0,845.0 L950.8,848.2 L951.6,851.2 L952.4,854.1 L953.2,857.0 L954.0,860.0 L954.7,863.0 L955.4,866.1 L956.0,869.3 L956.8,872.5 L957.6,875.4 L958.5,878.0 L960.1,881.3 L961.9,884.2 L964.0,887.0 L966.4,889.8 L969.0,892.5 L972.0,895.0 L974.6,896.8 L977.5,898.5 L980.5,900.1 L983.6,901.6 L986.5,903.0 L989.4,904.2 L992.3,905.2 L995.1,906.2 L998.0,907.2 L1001.2,908.4 L1004.5,909.7 L1007.9,910.9 L1011.2,912.3 L1014.0,913.5 L1016.7,914.8 L1019.5,916.1 L1022.3,917.4 L1025.1,918.6 L1028.1,919.7 L1031.1,920.8 L1034.1,921.9 L1037.1,922.9 L1040.0,924.0 L1043.0,925.2 L1045.8,926.3 L1048.8,927.5 L1052.3,928.8 L1054.5,929.6 L1057.0,930.5 L1059.7,931.5 L1062.6,932.5 L1065.7,933.6 L1068.8,934.7 L1071.9,935.8 L1075.1,936.9 L1078.3,938.0 L1081.4,939.1 L1084.4,940.1 L1087.3,941.1 L1090.0,942.0 L1093.2,943.1 L1096.2,944.1 L1099.0,945.0 L1101.7,946.0 L1104.5,946.9 L1107.5,947.8 L1110.8,948.9 L1114.5,950.0 L1116.7,950.7 L1119.1,951.4 L1121.5,952.1 L1124.1,952.9 L1126.8,953.7 L1129.6,954.5 L1132.4,955.4 L1135.3,956.2 L1138.3,957.1 L1141.3,958.0 L1144.4,958.9 L1147.6,959.8 L1150.8,960.7 L1154.0,961.6 L1157.2,962.5 L1160.5,963.4 L1163.7,964.3 L1167.0,965.2 L1170.2,966.1 L1173.4,967.0 L1176.6,967.8 L1179.8,968.7 L1182.9,969.5 L1186.0,970.2 L1189.0,971.0 L1192.0,971.7 L1194.9,972.4 L1197.9,973.2 L1200.9,973.8 L1203.8,974.5 L1206.8,975.2 L1209.8,975.9 L1212.7,976.6 L1215.7,977.2 L1218.7,977.9 L1221.6,978.5 L1224.6,979.1 L1227.6,979.8 L1230.5,980.4 L1233.5,981.0 L1236.5,981.6 L1239.5,982.2 L1242.4,982.8 L1245.4,983.4 L1248.4,984.0 L1251.4,984.5 L1254.4,985.1 L1257.4,985.7 L1260.4,986.2 L1263.4,986.8 L1266.4,987.4 L1269.5,987.9 L1272.5,988.5 L1275.5,989.0 L1278.5,989.5 L1281.5,990.0 L1284.6,990.5 L1287.6,991.1 L1290.6,991.6 L1293.6,992.0 L1296.7,992.5 L1299.7,993.0 L1302.7,993.5 L1305.8,994.0 L1308.8,994.4 L1311.9,994.9 L1315.0,995.4 L1318.0,995.8 L1321.1,996.3 L1324.2,996.7 L1327.4,997.2 L1330.5,997.7 L1333.7,998.1 L1336.8,998.6 L1340.0,999.0 L1342.9,999.4 L1345.8,999.8 L1348.8,1000.2 L1351.8,1000.6 L1354.8,1001.0 L1357.9,1001.5 L1361.0,1001.9 L1364.1,1002.3 L1367.2,1002.7 L1370.3,1003.1 L1373.4,1003.5 L1376.6,1003.9 L1379.7,1004.3 L1382.8,1004.7 L1386.0,1005.1 L1389.1,1005.4 L1392.2,1005.8 L1395.3,1006.2 L1398.4,1006.6 L1401.4,1006.9 L1404.4,1007.3 L1407.4,1007.6 L1410.4,1007.9 L1413.3,1008.3 L1416.2,1008.6 L1419.1,1008.9 L1421.9,1009.2 L1424.6,1009.5 L1427.4,1009.7 L1430.0,1010.0 L1433.3,1010.3 L1436.5,1010.6 L1439.7,1010.9 L1442.7,1011.2 L1445.7,1011.4 L1448.6,1011.6 L1451.5,1011.9 L1454.4,1012.1 L1457.2,1012.3 L1460.0,1012.5 L1462.9,1012.7 L1465.7,1012.8 L1468.6,1013.0 L1471.5,1013.2 L1474.5,1013.4 L1477.6,1013.5 L1480.7,1013.7 L1483.9,1013.9 L1486.7,1014.1 L1489.6,1014.2 L1492.5,1014.3 L1495.5,1014.5 L1498.5,1014.6 L1501.5,1014.7 L1504.6,1014.9 L1507.7,1015.0 L1510.8,1015.1 L1513.9,1015.2 L1517.1,1015.3 L1520.2,1015.5 L1523.4,1015.6 L1526.6,1015.7 L1529.7,1015.8 L1532.9,1015.9 L1536.1,1016.0 L1539.3,1016.1 L1542.4,1016.3 L1545.5,1016.4 L1548.7,1016.5 L1551.8,1016.6 L1554.8,1016.7 L1557.9,1016.9 L1560.9,1017.0 L1564.0,1017.1 L1567.0,1017.3 L1570.1,1017.4 L1573.1,1017.6 L1576.2,1017.7 L1579.2,1017.9 L1582.2,1018.0 L1585.2,1018.1 L1588.2,1018.3 L1591.2,1018.4 L1594.2,1018.6 L1597.2,1018.7 L1600.2,1018.9 L1603.1,1019.1 L1606.1,1019.2 L1609.1,1019.4 L1612.1,1019.5 L1615.0,1019.7 L1618.0,1019.8 L1621.0,1020.0 L1624.0,1020.2 L1627.0,1020.3 L1630.0,1020.5 L1633.0,1020.7 L1636.2,1020.9 L1639.3,1021.1 L1642.5,1021.3 L1645.8,1021.6 L1649.0,1021.9 L1652.3,1022.1 L1655.6,1022.4 L1658.9,1022.7 L1662.1,1022.9 L1665.4,1023.2 L1668.6,1023.4 L1671.8,1023.7 L1674.9,1023.9 L1678.0,1024.1 L1681.0,1024.3 L1683.9,1024.5 L1686.7,1024.6 L1689.5,1024.7 L1692.1,1024.7 L1694.6,1024.8 L1697.0,1024.8 L1699.3,1024.7 L1703.3,1024.4 L1706.9,1023.8 L1710.3,1023.2 L1713.4,1022.5 L1716.5,1021.9 L1719.4,1021.6 L1722.3,1021.6 L1725.5,1022.1 L1728.3,1023.1 L1731.2,1024.2 L1734.2,1025.3 L1737.7,1026.2 L1740.2,1026.6 L1742.9,1027.0 L1745.7,1027.4 L1748.7,1027.7 L1751.7,1028.0 L1754.9,1028.2 L1758.2,1028.4 L1761.6,1028.6 L1765.1,1028.8 L1768.7,1029.0 L1772.4,1029.1 L1776.2,1029.3 L1778.7,1029.4 L1781.2,1029.5 L1783.9,1029.5 L1786.6,1029.6 L1789.4,1029.6 L1792.3,1029.6 L1795.2,1029.6 L1798.2,1029.6 L1801.2,1029.6 L1804.3,1029.6 L1807.4,1029.6 L1810.5,1029.5 L1813.7,1029.5 L1816.9,1029.5 L1820.1,1029.4 L1823.3,1029.4 L1826.5,1029.4 L1829.8,1029.3 L1833.0,1029.3 L1836.2,1029.3 L1839.4,1029.2 L1842.6,1029.2 L1845.7,1029.2 L1848.8,1029.2 L1851.9,1029.2 L1855.0,1029.2 L1858.0,1029.3 L1860.9,1029.3 L1864.0,1029.4 L1867.2,1029.4 L1870.3,1029.5 L1873.4,1029.6 L1876.5,1029.6 L1879.6,1029.7 L1882.6,1029.8 L1885.7,1029.9 L1888.7,1030.0 L1891.7,1030.1 L1894.8,1030.2 L1897.8,1030.3 L1900.8,1030.4 L1903.8,1030.5 L1906.8,1030.6 L1909.8,1030.8 L1912.8,1030.9 L1915.9,1031.0 L1918.9,1031.1 L1921.9,1031.2 L1924.9,1031.3 L1927.9,1031.4 L1931.0,1031.5 L1934.0,1031.6" fill="none" stroke="#00cc3a" stroke-width="7" stroke-linejoin="round" stroke-linecap="round"/>
<path d="M282.0,147.0 L282.5,150.0 L282.9,153.1 L283.3,156.1 L283.7,159.2 L284.1,162.3 L284.5,165.4 L285.0,168.4 L285.5,171.4 L286.1,174.3 L286.7,177.2 L287.4,180.0 L288.4,183.3 L289.4,186.6 L290.5,189.7 L291.7,192.8 L293.0,195.9 L294.4,198.9 L295.8,201.8 L297.3,204.8 L298.9,207.8 L300.5,210.8 L302.1,213.8 L303.8,216.8 L305.7,219.7 L307.7,222.4 L309.8,224.9 L312.2,227.2 L314.5,229.1 L317.0,230.7 L319.5,232.2 L322.3,233.6 L325.1,234.9 L328.0,236.1 L331.0,237.3 L334.0,238.4 L337.1,239.6 L339.9,240.6 L342.9,241.7 L346.0,242.7 L349.1,243.7 L352.3,244.6 L355.6,245.5 L358.8,246.4 L362.1,247.2 L365.3,248.0 L368.4,248.7 L371.4,249.4 L374.3,250.0 L377.7,250.7 L381.0,251.2 L384.3,251.7 L387.5,252.1 L390.6,252.5 L393.7,252.8 L396.9,253.2 L400.0,253.5 L403.0,253.8 L406.0,254.1 L409.0,254.3 L412.0,254.6 L415.0,254.8 L418.0,255.0 L421.0,255.2 L424.0,255.5 L427.2,255.8 L430.4,256.1 L433.7,256.4 L437.0,256.8 L440.2,257.1 L443.5,257.4 L446.8,257.7 L450.0,258.0 L453.1,258.2 L456.3,258.5 L459.4,258.6 L462.5,258.8 L465.6,259.0 L468.8,259.2 L471.9,259.3 L475.0,259.5 L478.1,259.7 L481.2,259.8 L484.4,259.9 L487.5,260.1 L490.6,260.2 L493.7,260.3 L496.9,260.5 L500.0,260.6 L503.0,260.7 L505.9,260.9 L508.8,261.0 L511.7,261.2 L514.6,261.3 L517.8,261.5 L521.2,261.6 L525.0,261.8 L527.3,261.9 L529.7,262.0 L532.2,262.1 L534.9,262.2 L537.7,262.3 L540.6,262.4 L543.5,262.5 L546.6,262.6 L549.7,262.7 L552.9,262.8 L556.1,262.9 L559.3,263.0 L562.6,263.1 L565.9,263.2 L569.2,263.3 L572.5,263.5 L575.8,263.6 L579.0,263.8 L582.2,263.9 L585.4,264.1 L588.4,264.2 L591.5,264.4 L594.4,264.6 L597.3,264.8 L600.0,265.0 L603.4,265.3 L606.7,265.6 L610.0,265.9 L613.3,266.2 L616.5,266.5 L619.7,266.8 L622.8,267.2 L625.9,267.5 L628.9,267.9 L631.9,268.3 L634.9,268.7 L637.9,269.1 L640.9,269.5 L643.8,269.9 L646.8,270.3 L649.7,270.8 L652.9,271.3 L656.1,271.8 L659.3,272.4 L662.5,272.9 L665.6,273.5 L668.7,274.1 L671.8,274.7 L674.8,275.3 L677.8,275.9 L680.8,276.6 L683.7,277.3 L686.6,278.0 L689.4,278.7 L692.6,279.6 L695.8,280.5 L699.0,281.4 L702.1,282.3 L705.2,283.3 L708.1,284.3 L711.1,285.3 L713.9,286.4 L716.6,287.5 L719.2,288.7 L722.6,290.3 L725.8,291.9 L728.9,293.5 L731.7,295.3 L734.5,297.3 L737.0,299.6 L739.0,302.0 L740.8,304.8 L742.4,307.7 L744.0,310.8 L745.5,313.8 L747.2,316.7 L749.0,319.4 L751.0,321.7 L753.1,323.8 L755.3,325.8 L757.5,327.8 L759.7,329.9 L761.9,332.0 L763.9,334.3 L765.7,336.6 L767.4,339.0 L769.0,341.5 L770.6,344.1 L772.1,346.7 L773.7,349.3 L775.3,352.0 L777.0,354.7 L778.5,357.2 L780.0,360.0 L781.6,362.8 L783.1,365.7 L784.7,368.6 L786.3,371.4 L787.9,374.1 L789.6,376.5 L791.3,378.7 L793.1,380.6 L795.8,382.7 L798.7,384.3 L801.6,385.5 L804.7,386.7 L808.0,388.0 L810.8,389.1 L813.8,390.1 L816.9,391.1 L820.2,392.1 L823.4,393.1 L826.6,394.2 L829.7,395.4 L832.6,396.7 L835.5,398.2 L838.3,399.8 L840.9,401.4 L843.6,403.2 L846.1,405.1 L848.7,407.0 L851.2,409.1 L853.4,411.0 L855.5,413.0 L857.6,415.1 L859.6,417.2 L861.7,419.5 L863.7,421.8 L865.7,424.1 L867.7,426.4 L869.7,428.8 L871.6,431.1 L873.6,433.4 L875.5,435.8 L877.5,438.2 L879.4,440.6 L881.3,443.1 L883.2,445.6 L884.9,448.2 L886.6,450.8 L888.2,453.5 L889.6,456.1 L890.9,458.8 L892.2,461.5 L893.4,464.2 L894.5,467.0 L895.6,469.9 L896.7,472.7 L897.7,475.6 L898.7,478.5 L899.7,481.5 L900.6,484.4 L901.5,487.3 L902.3,490.1 L903.1,493.1 L903.8,496.0 L904.5,499.0 L905.2,502.0 L905.8,505.0 L906.5,508.0 L907.1,511.0 L907.7,514.0 L908.4,517.0 L909.0,520.0 L909.7,523.1 L910.3,526.2 L911.0,529.3 L911.6,532.3 L912.2,535.3 L912.8,538.4 L913.4,541.5 L914.1,544.7 L914.7,548.0 L915.3,551.4 L916.0,555.0 L916.5,557.7 L917.0,560.4 L917.5,563.3 L918.0,566.2 L918.5,569.1 L919.0,572.2 L919.5,575.3 L920.0,578.4 L920.6,581.6 L921.1,584.8 L921.6,588.0 L922.2,591.3 L922.7,594.5 L923.2,597.8 L923.8,601.0 L924.3,604.3 L924.9,607.5 L925.4,610.7 L925.9,613.8 L926.5,616.9 L927.0,620.0 L927.5,623.1 L928.1,626.1 L928.6,629.2 L929.2,632.2 L929.7,635.3 L930.3,638.4 L930.9,641.4 L931.4,644.4 L932.0,647.5 L932.5,650.5 L933.1,653.5 L933.7,656.5 L934.2,659.5 L934.8,662.5 L935.3,665.4 L935.9,668.4 L936.4,671.3 L936.9,674.2 L937.5,677.1 L938.0,680.0 L938.6,683.3 L939.2,686.5 L939.7,689.7 L940.3,692.8 L940.8,696.0 L941.4,699.1 L941.9,702.3 L942.5,705.4 L943.0,708.4 L943.6,711.5 L944.1,714.6 L944.7,717.7 L945.3,720.8 L945.8,723.8 L946.4,726.9 L947.0,730.0 L947.6,733.1 L948.2,736.2 L948.8,739.4 L949.4,742.7 L950.0,745.9 L950.6,749.2 L951.2,752.4 L951.8,755.6 L952.4,758.8 L953.1,761.9 L953.7,764.9 L954.3,767.8 L955.0,770.6 L955.7,773.2 L956.3,775.7 L957.0,778.0 L958.1,781.5 L959.1,784.6 L960.1,787.5 L961.2,790.2 L962.5,792.7 L964.0,795.0 L966.4,797.7 L969.1,800.1 L972.1,802.1 L975.0,804.0 L977.7,805.5 L980.3,806.6 L983.2,807.7 L986.5,809.0 L989.0,810.0 L991.8,811.0 L994.8,812.2 L998.0,813.3 L1001.3,814.5 L1004.6,815.7 L1008.0,816.9 L1011.3,818.1 L1014.4,819.2 L1017.4,820.2 L1020.7,821.3 L1023.7,822.4 L1026.6,823.4 L1029.6,824.3 L1032.7,825.4 L1036.1,826.5 L1040.0,827.7 L1042.2,828.4 L1044.5,829.1 L1046.9,829.9 L1049.5,830.7 L1052.1,831.5 L1054.9,832.3 L1057.7,833.2 L1060.6,834.1 L1063.6,835.0 L1066.7,835.9 L1069.8,836.9 L1072.9,837.8 L1076.1,838.8 L1079.3,839.8 L1082.6,840.7 L1085.9,841.7 L1089.1,842.7 L1092.4,843.6 L1095.6,844.6 L1098.9,845.5 L1102.1,846.5 L1105.3,847.4 L1108.4,848.3 L1111.5,849.2 L1114.5,850.0 L1117.5,850.8 L1120.4,851.7 L1123.4,852.5 L1126.4,853.4 L1129.4,854.2 L1132.3,855.0 L1135.3,855.9 L1138.3,856.7 L1141.3,857.6 L1144.2,858.4 L1147.2,859.2 L1150.2,860.0 L1153.2,860.8 L1156.1,861.6 L1159.1,862.4 L1162.1,863.2 L1165.1,863.9 L1168.1,864.7 L1171.1,865.4 L1174.0,866.1 L1177.0,866.8 L1180.0,867.5 L1183.0,868.2 L1186.0,868.8 L1189.0,869.4 L1192.0,870.0 L1194.9,870.5 L1197.9,871.1 L1200.8,871.6 L1203.8,872.0 L1206.8,872.5 L1209.7,872.9 L1212.7,873.4 L1215.7,873.8 L1218.6,874.2 L1221.6,874.6 L1224.6,875.0 L1227.6,875.3 L1230.5,875.7 L1233.5,876.1 L1236.5,876.4 L1239.5,876.8 L1242.5,877.1 L1245.4,877.5 L1248.4,877.9 L1251.4,878.2 L1254.4,878.6 L1257.4,879.0 L1260.4,879.4 L1263.4,879.8 L1266.5,880.2 L1269.6,880.6 L1272.7,881.1 L1275.8,881.5 L1279.0,881.9 L1282.2,882.4 L1285.4,882.8 L1288.6,883.2 L1291.8,883.7 L1295.0,884.1 L1298.2,884.5 L1301.4,885.0 L1304.5,885.4 L1307.7,885.8 L1310.8,886.3 L1313.9,886.7 L1317.0,887.1 L1320.1,887.5 L1323.1,887.9 L1326.0,888.3 L1328.9,888.7 L1331.8,889.1 L1334.6,889.5 L1337.3,889.8 L1340.0,890.2 L1343.5,890.7 L1346.8,891.2 L1350.0,891.6 L1353.1,892.1 L1356.2,892.6 L1359.1,893.0 L1362.1,893.5 L1365.0,893.9 L1368.0,894.4 L1371.0,894.8 L1374.0,895.2 L1377.2,895.5 L1380.5,895.9 L1383.9,896.2 L1386.6,896.4 L1389.4,896.6 L1392.3,896.8 L1395.3,897.0 L1398.4,897.1 L1401.5,897.2 L1404.7,897.4 L1407.9,897.5 L1411.1,897.6 L1414.4,897.6 L1417.6,897.7 L1420.9,897.8 L1424.1,897.9 L1427.3,898.0 L1430.5,898.1 L1433.6,898.2 L1436.6,898.3 L1439.6,898.4 L1442.5,898.6 L1445.3,898.7 L1448.0,898.9 L1450.6,899.1 L1453.1,899.3 L1456.6,899.7 L1459.8,900.1 L1462.8,900.6 L1465.6,901.1 L1468.4,901.7 L1471.2,902.2 L1474.0,902.7 L1477.0,903.1 L1480.3,903.5 L1483.9,903.9 L1486.3,904.1 L1488.9,904.2 L1491.5,904.4 L1494.2,904.5 L1497.0,904.6 L1499.9,904.7 L1502.9,904.7 L1505.9,904.8 L1509.0,904.8 L1512.1,904.8 L1515.3,904.8 L1518.5,904.8 L1521.8,904.8 L1525.1,904.8 L1528.4,904.8 L1531.7,904.9 L1535.0,904.9 L1538.3,904.9 L1541.6,904.9 L1544.9,905.0 L1548.2,905.0 L1551.4,905.1 L1554.6,905.2 L1557.8,905.3 L1560.9,905.4 L1563.9,905.5 L1566.9,905.7 L1570.0,905.9 L1573.0,906.1 L1576.0,906.3 L1579.1,906.6 L1582.1,906.8 L1585.1,907.1 L1588.1,907.3 L1591.2,907.6 L1594.2,907.9 L1597.2,908.1 L1600.3,908.4 L1603.3,908.7 L1606.4,908.9 L1609.4,909.2 L1612.5,909.4 L1615.5,909.7 L1618.6,909.9 L1621.6,910.1 L1624.7,910.3 L1627.7,910.5 L1630.8,910.7 L1633.9,910.8 L1636.9,910.9 L1640.0,911.0 L1643.1,911.1 L1646.2,911.1 L1649.4,911.1 L1652.7,911.0 L1656.1,910.9 L1659.4,910.8 L1662.8,910.7 L1666.3,910.6 L1669.7,910.4 L1673.2,910.2 L1676.6,910.1 L1680.1,909.9 L1683.5,909.7 L1686.8,909.6 L1690.1,909.4 L1693.4,909.2 L1696.6,909.1 L1699.7,909.0 L1702.7,908.9 L1705.6,908.8 L1708.4,908.7 L1711.1,908.7 L1713.6,908.7 L1716.0,908.8 L1718.3,908.9 L1720.4,909.0 L1722.3,909.2 L1726.0,909.8 L1728.8,910.6 L1731.2,911.5 L1734.0,912.4 L1737.7,913.1 L1739.6,913.3 L1741.9,913.6 L1744.3,913.7 L1747.0,913.9 L1749.9,914.0 L1753.0,914.1 L1756.2,914.2 L1759.6,914.3 L1763.1,914.4 L1766.6,914.4 L1770.3,914.5 L1774.0,914.5 L1777.7,914.5 L1781.5,914.5 L1785.2,914.6 L1788.9,914.6 L1792.5,914.7 L1796.1,914.7 L1799.5,914.8 L1802.9,914.8 L1806.1,914.9 L1809.1,915.0 L1811.9,915.2 L1814.5,915.3 L1816.9,915.5 L1819.0,915.7 L1820.9,915.9 L1822.4,916.2 L1826.6,917.9 L1830.1,919.2 L1832.6,919.2 L1835.2,918.7 L1838.1,918.1 L1841.5,917.4 L1845.5,916.9 L1847.4,916.8 L1849.4,916.7 L1851.6,916.6 L1854.0,916.6 L1856.5,916.6 L1859.1,916.5 L1861.8,916.5 L1864.6,916.6 L1867.6,916.6 L1870.6,916.6 L1873.7,916.7 L1876.9,916.8 L1880.2,916.8 L1883.5,916.9 L1886.9,917.0 L1890.3,917.1 L1893.7,917.2 L1897.2,917.3 L1900.6,917.4 L1904.1,917.5 L1907.6,917.6 L1911.0,917.7 L1914.5,917.8 L1917.8,917.9 L1921.2,917.9 L1924.5,918.0 L1927.7,918.1 L1930.9,918.1 L1934.0,918.2" fill="none" stroke="#cc34bc" stroke-width="5.5" stroke-linejoin="round" stroke-linecap="round"/>

<!-- dashed region lines -->
<line x1="739" y1="158.5" x2="739" y2="1126" stroke="#158888" stroke-width="6" stroke-dasharray="35 28.7"/>
<line x1="1019.5" y1="154.5" x2="1019.5" y2="1139" stroke="#158888" stroke-width="6" stroke-dasharray="34.5 29.2"/>
<!-- axes -->
<line x1="278.5" y1="25.5" x2="278.5" y2="1363" stroke="#000" stroke-width="5"/>
<line x1="250.5" y1="1360.6" x2="1937" y2="1360.6" stroke="#000" stroke-width="5"/>
<line x1="250.5" y1="1361.0" x2="281" y2="1361.0" stroke="#000" stroke-width="4.5"/>
<line x1="264" y1="1239.8" x2="281" y2="1239.8" stroke="#000" stroke-width="4.5"/>
<line x1="250.5" y1="1118.5" x2="281" y2="1118.5" stroke="#000" stroke-width="4.5"/>
<line x1="264" y1="997.2" x2="281" y2="997.2" stroke="#000" stroke-width="4.5"/>
<line x1="250.5" y1="876.0" x2="281" y2="876.0" stroke="#000" stroke-width="4.5"/>
<line x1="264" y1="754.8" x2="281" y2="754.8" stroke="#000" stroke-width="4.5"/>
<line x1="250.5" y1="633.5" x2="281" y2="633.5" stroke="#000" stroke-width="4.5"/>
<line x1="264" y1="512.2" x2="281" y2="512.2" stroke="#000" stroke-width="4.5"/>
<line x1="250.5" y1="391.0" x2="281" y2="391.0" stroke="#000" stroke-width="4.5"/>
<line x1="264" y1="269.8" x2="281" y2="269.8" stroke="#000" stroke-width="4.5"/>
<line x1="250.5" y1="148.5" x2="281" y2="148.5" stroke="#000" stroke-width="4.5"/>
<line x1="264" y1="27.2" x2="281" y2="27.2" stroke="#000" stroke-width="4.5"/>
<line x1="427.4" y1="1358" x2="427.4" y2="1375" stroke="#000" stroke-width="4.5"/>
<line x1="642.8" y1="1358" x2="642.8" y2="1390" stroke="#000" stroke-width="4.5"/>
<line x1="858.2" y1="1358" x2="858.2" y2="1375" stroke="#000" stroke-width="4.5"/>
<line x1="1073.7" y1="1358" x2="1073.7" y2="1390" stroke="#000" stroke-width="4.5"/>
<line x1="1289.2" y1="1358" x2="1289.2" y2="1375" stroke="#000" stroke-width="4.5"/>
<line x1="1504.6" y1="1358" x2="1504.6" y2="1390" stroke="#000" stroke-width="4.5"/>
<line x1="1720.1" y1="1358" x2="1720.1" y2="1375" stroke="#000" stroke-width="4.5"/>
<line x1="1935.5" y1="1358" x2="1935.5" y2="1390" stroke="#000" stroke-width="4.5"/>

<text transform="scale(0.88,1)" x="136.8 182.2 226.2" y="168.6" class="tick">100</text>
<text transform="scale(0.88,1)" x="182.1 226.2" y="411.1" class="tick">80</text>
<text transform="scale(0.88,1)" x="182.1 226.2" y="653.6" class="tick">60</text>
<text transform="scale(0.88,1)" x="181.8 226.2" y="896.1" class="tick">40</text>
<text transform="scale(0.88,1)" x="182.3 226.2" y="1138.6" class="tick">20</text>
<text transform="scale(0.88,1)" x="226.2" y="1381.1" class="tick">0</text>

<text transform="scale(0.88,1)" x="665.2 709.1 753.2" y="1459.0" class="tick">200</text>
<text transform="scale(0.88,1)" x="1154.3 1198.8 1242.9" y="1459.0" class="tick">400</text>
<text transform="scale(0.88,1)" x="1644.3 1688.5 1732.5" y="1459.0" class="tick">600</text>
<text transform="scale(0.88,1)" x="2133.9 2178.1 2222.2" y="1459.0" class="tick">800</text>

<text class="ttl" x="844.3" y="1578.4">Temperature</text>
<text class="par" x="1253.8" y="1577.6">(</text>
<text class="deg" transform="translate(1281.8,1576.6) scale(0.931,1)">℃</text>
<text class="par" x="1346.5" y="1577.6">)</text>
<text class="ttl" style="font-size:70px" transform="translate(94.5,833) rotate(-90)">Weight <tspan font-weight="normal">(</tspan>%<tspan font-weight="normal">)</tspan></text>
<text class="reg" x="433.7" y="802.6" textLength="228.5" lengthAdjust="spacingAndGlyphs">Region I</text>
<text class="reg" x="757.8" y="1130" textLength="251.9" lengthAdjust="spacingAndGlyphs">Region II</text>
<text class="reg" x="1161.6" y="804" textLength="275.8" lengthAdjust="spacingAndGlyphs">Region III</text>

<line x1="1376" y1="154.2" x2="1537.5" y2="154.2" stroke="#000000" stroke-width="6"/>
<text x="1555.0" y="177.7" textLength="303.1" lengthAdjust="spacingAndGlyphs" class="leg" fill="#000000">Pure CNF</text>
<line x1="1376" y1="240.8" x2="1537.5" y2="240.8" stroke="#c41a1e" stroke-width="6"/>
<text x="1550.9" y="264.6" textLength="240.8" lengthAdjust="spacingAndGlyphs" class="leg" fill="#e81414">2% AIN</text>
<line x1="1376" y1="327.4" x2="1537.5" y2="327.4" stroke="#0c0a88" stroke-width="6"/>
<text x="1551.0" y="350.8" textLength="240.7" lengthAdjust="spacingAndGlyphs" class="leg" fill="#1410b0">5% AIN</text>
<line x1="1376" y1="414.0" x2="1537.5" y2="414.0" stroke="#00cc3a" stroke-width="7.5"/>
<text x="1551.7" y="437.2" textLength="271.7" lengthAdjust="spacingAndGlyphs" class="leg" fill="#10e044">10% AIN</text>
<line x1="1376" y1="500.6" x2="1537.5" y2="500.6" stroke="#cc34bc" stroke-width="6"/>
<text x="1552.1" y="524.3" textLength="271.3" lengthAdjust="spacingAndGlyphs" class="leg" fill="#e826d8">20% AIN</text>

</svg>
</body></html>
